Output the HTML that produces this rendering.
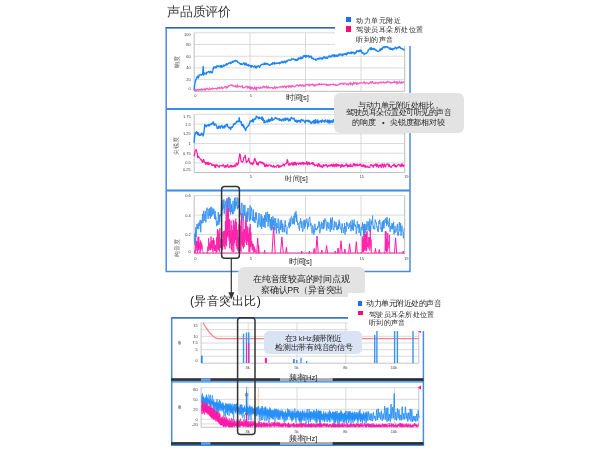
<!DOCTYPE html>
<html><head><meta charset="utf-8"><style>
html,body{margin:0;padding:0;background:#fff;width:600px;height:450px;overflow:hidden}
body{position:relative;font-family:'Liberation Sans',sans-serif;color:#262626}
.a{position:absolute;white-space:nowrap;line-height:1;transform-origin:0 0;filter:grayscale(1)}
.r{position:absolute}
.box{position:absolute;background:#e3e3e3;border-radius:6px}
</style></head><body>
<svg width="600" height="450" viewBox="0 0 600 450" style="position:absolute;left:0;top:0"><rect x="166.2" y="27.9" width="243.8" height="243.6" fill="none" stroke="#4a8ae0" stroke-width="1.5"/>
<line x1="165.50" y1="27.60" x2="410.70" y2="27.60" stroke="#3466b4" stroke-width="1.10" />
<line x1="166.00" y1="108.90" x2="410.00" y2="108.90" stroke="#3b8af0" stroke-width="2.00" />
<line x1="166.00" y1="190.50" x2="410.00" y2="190.50" stroke="#3b8af0" stroke-width="2.00" />
<line x1="194.20" y1="32.80" x2="404.70" y2="32.80" stroke="#d6d6d6" stroke-width="0.90" />
<line x1="194.20" y1="44.50" x2="404.70" y2="44.50" stroke="#d6d6d6" stroke-width="0.90" />
<line x1="194.20" y1="56.20" x2="404.70" y2="56.20" stroke="#d6d6d6" stroke-width="0.90" />
<line x1="194.20" y1="67.90" x2="404.70" y2="67.90" stroke="#d6d6d6" stroke-width="0.90" />
<line x1="194.20" y1="79.60" x2="404.70" y2="79.60" stroke="#d6d6d6" stroke-width="0.90" />
<line x1="250.00" y1="32.80" x2="250.00" y2="91.30" stroke="#d6d6d6" stroke-width="0.90" />
<line x1="305.50" y1="32.80" x2="305.50" y2="91.30" stroke="#d6d6d6" stroke-width="0.90" />
<line x1="361.00" y1="32.80" x2="361.00" y2="91.30" stroke="#d6d6d6" stroke-width="0.90" />
<line x1="194.20" y1="32.80" x2="194.20" y2="91.30" stroke="#b5b5b5" stroke-width="0.90" />
<line x1="404.70" y1="32.80" x2="404.70" y2="91.30" stroke="#b5b5b5" stroke-width="0.90" />
<line x1="194.20" y1="91.30" x2="404.70" y2="91.30" stroke="#b5b5b5" stroke-width="0.90" />
<path d="M194.20,90.08 L194.70,84.41 L195.20,82.20 L195.70,80.22 L196.20,79.36 L196.70,77.23 L197.20,77.63 L197.70,76.03 L198.20,77.98 L198.70,77.03 L199.20,75.17 L199.70,74.96 L200.20,74.75 L200.70,74.53 L201.20,75.11 L201.70,74.69 L202.20,74.68 L202.70,73.80 L203.20,66.50 L203.70,75.09 L204.20,73.77 L204.70,73.11 L205.20,73.62 L205.70,73.45 L206.20,74.28 L206.70,72.09 L207.20,72.53 L207.70,72.30 L208.20,71.90 L208.70,71.47 L209.20,71.42 L209.70,72.88 L210.20,71.72 L210.70,71.27 L211.20,72.05 L211.70,72.88 L212.20,72.76 L212.70,70.89 L213.20,68.78 L213.70,66.94 L214.20,67.91 L214.70,67.89 L215.20,66.66 L215.70,67.46 L216.20,67.78 L216.70,66.09 L217.20,66.48 L217.70,65.77 L218.20,66.45 L218.70,66.32 L219.20,65.98 L219.70,66.44 L220.20,67.17 L220.70,65.38 L221.20,66.97 L221.70,65.38 L222.20,66.97 L222.70,66.61 L223.20,66.13 L223.70,64.92 L224.20,66.13 L224.70,65.34 L225.20,65.35 L225.70,64.36 L226.20,64.91 L226.70,63.57 L227.20,64.83 L227.70,63.71 L228.20,63.78 L228.70,63.34 L229.20,62.76 L229.70,62.94 L230.20,62.33 L230.70,63.52 L231.20,63.22 L231.70,62.92 L232.20,61.20 L232.70,62.30 L233.20,62.37 L233.70,61.08 L234.20,61.13 L234.70,61.46 L235.20,60.15 L235.70,61.04 L236.20,60.76 L236.70,61.28 L237.20,61.05 L237.70,62.25 L238.20,62.46 L238.70,62.78 L239.20,62.91 L239.70,63.68 L240.20,63.42 L240.70,64.39 L241.20,63.61 L241.70,64.18 L242.20,64.63 L242.70,64.13 L243.20,63.55 L243.70,62.97 L244.20,63.83 L244.70,64.93 L245.20,63.06 L245.70,64.42 L246.20,63.37 L246.70,64.92 L247.20,65.50 L247.70,65.07 L248.20,64.55 L248.70,65.99 L249.20,65.40 L249.70,65.43 L250.20,65.59 L250.70,66.73 L251.20,67.20 L251.70,65.53 L252.20,65.83 L252.70,66.01 L253.20,66.45 L253.70,67.15 L254.20,66.94 L254.70,65.86 L255.20,66.35 L255.70,67.68 L256.20,68.05 L256.70,66.47 L257.20,66.25 L257.70,66.72 L258.20,65.76 L258.70,66.44 L259.20,66.70 L259.70,67.26 L260.20,65.56 L260.70,65.15 L261.20,65.01 L261.70,64.35 L262.20,64.22 L262.70,64.47 L263.20,64.75 L263.70,64.43 L264.20,63.07 L264.70,64.34 L265.20,63.10 L265.70,64.16 L266.20,63.41 L266.70,64.23 L267.20,63.92 L267.70,63.47 L268.20,64.83 L268.70,64.68 L269.20,64.76 L269.70,65.32 L270.20,64.93 L270.70,65.00 L271.20,64.03 L271.70,63.69 L272.20,64.29 L272.70,62.70 L273.20,62.92 L273.70,63.24 L274.20,64.16 L274.70,62.46 L275.20,63.56 L275.70,63.69 L276.20,63.52 L276.70,62.88 L277.20,63.30 L277.70,63.37 L278.20,62.96 L278.70,63.18 L279.20,62.49 L279.70,63.68 L280.20,63.18 L280.70,62.79 L281.20,62.03 L281.70,62.49 L282.20,61.42 L282.70,62.58 L283.20,62.81 L283.70,62.02 L284.20,61.12 L284.70,61.62 L285.20,62.80 L285.70,61.45 L286.20,60.88 L286.70,61.94 L287.20,60.58 L287.70,60.78 L288.20,60.04 L288.70,59.88 L289.20,59.84 L289.70,60.09 L290.20,60.45 L290.70,60.28 L291.20,59.51 L291.70,58.72 L292.20,59.27 L292.70,59.15 L293.20,58.69 L293.70,59.39 L294.20,59.33 L294.70,59.77 L295.20,59.22 L295.70,60.43 L296.20,59.61 L296.70,60.47 L297.20,60.24 L297.70,58.73 L298.20,59.56 L298.70,57.93 L299.20,58.68 L299.70,58.09 L300.20,58.87 L300.70,57.28 L301.20,58.70 L301.70,57.30 L302.20,58.33 L302.70,57.94 L303.20,56.23 L303.70,55.67 L304.20,56.55 L304.70,55.73 L305.20,55.43 L305.70,57.16 L306.20,55.53 L306.70,56.77 L307.20,56.54 L307.70,55.97 L308.20,56.11 L308.70,55.54 L309.20,57.52 L309.70,56.62 L310.20,56.89 L310.70,56.31 L311.20,56.21 L311.70,58.27 L312.20,58.67 L312.70,57.94 L313.20,58.30 L313.70,59.37 L314.20,59.40 L314.70,59.41 L315.20,58.97 L315.70,60.26 L316.20,60.13 L316.70,59.39 L317.20,58.65 L317.70,59.07 L318.20,58.26 L318.70,58.82 L319.20,59.14 L319.70,58.00 L320.20,58.51 L320.70,58.06 L321.20,58.86 L321.70,59.08 L322.20,57.79 L322.70,59.07 L323.20,57.97 L323.70,57.04 L324.20,56.67 L324.70,58.04 L325.20,57.27 L325.70,57.72 L326.20,58.14 L326.70,57.08 L327.20,58.30 L327.70,58.08 L328.20,56.79 L328.70,56.52 L329.20,55.74 L329.70,56.78 L330.20,57.01 L330.70,56.15 L331.20,56.71 L331.70,56.72 L332.20,55.05 L332.70,54.85 L333.20,55.96 L333.70,56.17 L334.20,54.68 L334.70,56.80 L335.20,56.24 L335.70,55.26 L336.20,55.11 L336.70,56.36 L337.20,55.46 L337.70,56.37 L338.20,54.81 L338.70,55.37 L339.20,54.11 L339.70,54.12 L340.20,55.02 L340.70,54.04 L341.20,54.31 L341.70,54.62 L342.20,55.70 L342.70,54.22 L343.20,55.01 L343.70,54.60 L344.20,53.64 L344.70,54.28 L345.20,54.37 L345.70,53.56 L346.20,54.80 L346.70,54.84 L347.20,52.69 L347.70,53.18 L348.20,52.61 L348.70,52.54 L349.20,53.37 L349.70,53.33 L350.20,52.92 L350.70,52.42 L351.20,53.64 L351.70,51.85 L352.20,53.15 L352.70,52.49 L353.20,52.37 L353.70,52.71 L354.20,53.90 L354.70,52.69 L355.20,53.48 L355.70,52.13 L356.20,52.66 L356.70,50.65 L357.20,51.48 L357.70,51.20 L358.20,50.87 L358.70,51.67 L359.20,50.52 L359.70,51.44 L360.20,50.08 L360.70,51.45 L361.20,50.45 L361.70,51.85 L362.20,53.21 L362.70,52.75 L363.20,52.88 L363.70,53.05 L364.20,54.57 L364.70,53.43 L365.20,53.51 L365.70,53.70 L366.20,53.46 L366.70,52.95 L367.20,52.51 L367.70,51.84 L368.20,50.44 L368.70,49.73 L369.20,49.15 L369.70,48.96 L370.20,47.92 L370.70,49.43 L371.20,47.73 L371.70,49.67 L372.20,48.90 L372.70,48.99 L373.20,48.32 L373.70,49.31 L374.20,49.53 L374.70,48.77 L375.20,50.01 L375.70,49.84 L376.20,50.46 L376.70,50.27 L377.20,51.07 L377.70,51.43 L378.20,51.52 L378.70,51.02 L379.20,50.77 L379.70,50.07 L380.20,49.09 L380.70,50.64 L381.20,48.56 L381.70,48.56 L382.20,49.26 L382.70,47.41 L383.20,47.68 L383.70,46.90 L384.20,46.98 L384.70,47.88 L385.20,45.86 L385.70,46.09 L386.20,47.16 L386.70,46.54 L387.20,46.65 L387.70,47.61 L388.20,47.33 L388.70,47.74 L389.20,48.57 L389.70,48.03 L390.20,49.44 L390.70,48.09 L391.20,49.31 L391.70,48.63 L392.20,49.05 L392.70,49.95 L393.20,48.50 L393.70,48.42 L394.20,48.89 L394.70,48.60 L395.20,47.29 L395.70,47.27 L396.20,48.01 L396.70,48.93 L397.20,47.65 L397.70,47.70 L398.20,47.32 L398.70,47.71 L399.20,46.49 L399.70,46.60 L400.20,47.55 L400.70,48.36 L401.20,48.21 L401.70,48.75 L402.20,48.48 L402.70,48.98 L403.20,49.64 L403.70,49.99 L404.20,48.90" fill="none" stroke="#1e85f5" stroke-width="1.4" stroke-linejoin="round"/>
<path d="M194.20,89.90 L194.70,90.61 L195.20,90.47 L195.70,89.71 L196.20,90.76 L196.70,90.42 L197.20,89.60 L197.70,89.50 L198.20,89.92 L198.70,90.56 L199.20,89.35 L199.70,89.55 L200.20,89.88 L200.70,89.36 L201.20,89.88 L201.70,88.89 L202.20,89.28 L202.70,89.94 L203.20,89.57 L203.70,89.24 L204.20,88.89 L204.70,90.03 L205.20,89.20 L205.70,89.70 L206.20,88.71 L206.70,88.29 L207.20,88.15 L207.70,89.05 L208.20,89.40 L208.70,89.82 L209.20,88.78 L209.70,88.09 L210.20,89.21 L210.70,89.62 L211.20,89.29 L211.70,88.39 L212.20,88.83 L212.70,88.08 L213.20,88.84 L213.70,88.72 L214.20,88.75 L214.70,88.59 L215.20,88.35 L215.70,88.47 L216.20,88.41 L216.70,89.04 L217.20,88.96 L217.70,87.65 L218.20,87.42 L218.70,88.27 L219.20,88.55 L219.70,87.62 L220.20,88.31 L220.70,88.00 L221.20,87.46 L221.70,87.00 L222.20,88.56 L222.70,87.99 L223.20,88.08 L223.70,88.04 L224.20,87.29 L224.70,86.80 L225.20,86.59 L225.70,86.44 L226.20,88.11 L226.70,87.00 L227.20,87.65 L227.70,87.07 L228.20,86.00 L228.70,86.38 L229.20,85.81 L229.70,85.30 L230.20,85.30 L230.70,85.28 L231.20,84.64 L231.70,84.72 L232.20,85.58 L232.70,85.25 L233.20,85.86 L233.70,86.17 L234.20,86.62 L234.70,86.61 L235.20,85.81 L235.70,86.74 L236.20,86.12 L236.70,86.81 L237.20,85.25 L237.70,87.01 L238.20,86.67 L238.70,86.35 L239.20,86.01 L239.70,86.50 L240.20,86.51 L240.70,86.87 L241.20,86.22 L241.70,86.49 L242.20,85.84 L242.70,87.82 L243.20,87.80 L243.70,87.67 L244.20,87.45 L244.70,87.85 L245.20,87.48 L245.70,86.90 L246.20,86.35 L246.70,86.80 L247.20,86.37 L247.70,88.07 L248.20,87.23 L248.70,86.78 L249.20,88.08 L249.70,87.35 L250.20,88.59 L250.70,87.24 L251.20,88.46 L251.70,87.46 L252.20,87.97 L252.70,87.62 L253.20,89.33 L253.70,88.47 L254.20,88.74 L254.70,87.14 L255.20,87.76 L255.70,89.08 L256.20,87.85 L256.70,89.29 L257.20,87.58 L257.70,87.71 L258.20,87.56 L258.70,87.34 L259.20,88.38 L259.70,87.99 L260.20,88.03 L260.70,87.23 L261.20,88.07 L261.70,87.77 L262.20,88.05 L262.70,87.16 L263.20,86.28 L263.70,86.78 L264.20,87.60 L264.70,86.48 L265.20,86.66 L265.70,87.13 L266.20,87.65 L266.70,86.49 L267.20,87.78 L267.70,88.07 L268.20,86.76 L268.70,87.68 L269.20,87.65 L269.70,87.61 L270.20,88.21 L270.70,87.74 L271.20,87.38 L271.70,87.48 L272.20,87.59 L272.70,88.46 L273.20,88.62 L273.70,87.85 L274.20,87.84 L274.70,86.88 L275.20,88.19 L275.70,88.53 L276.20,87.05 L276.70,87.36 L277.20,87.25 L277.70,87.78 L278.20,87.76 L278.70,87.22 L279.20,86.88 L279.70,86.79 L280.20,86.55 L280.70,87.07 L281.20,87.07 L281.70,87.28 L282.20,86.14 L282.70,86.81 L283.20,87.29 L283.70,86.38 L284.20,86.02 L284.70,86.05 L285.20,87.33 L285.70,86.49 L286.20,87.46 L286.70,86.21 L287.20,86.25 L287.70,86.41 L288.20,85.91 L288.70,87.25 L289.20,86.95 L289.70,85.90 L290.20,85.91 L290.70,87.12 L291.20,85.95 L291.70,86.73 L292.20,86.00 L292.70,85.46 L293.20,86.48 L293.70,86.49 L294.20,86.43 L294.70,86.94 L295.20,86.67 L295.70,85.66 L296.20,85.81 L296.70,84.99 L297.20,85.33 L297.70,85.24 L298.20,86.01 L298.70,85.37 L299.20,85.01 L299.70,85.62 L300.20,84.81 L300.70,85.04 L301.20,86.18 L301.70,85.15 L302.20,84.85 L302.70,85.48 L303.20,86.24 L303.70,85.14 L304.20,85.57 L304.70,86.13 L305.20,85.81 L305.70,84.53 L306.20,84.79 L306.70,84.36 L307.20,84.26 L307.70,84.88 L308.20,84.42 L308.70,84.79 L309.20,85.64 L309.70,84.56 L310.20,85.34 L310.70,84.72 L311.20,84.68 L311.70,84.74 L312.20,84.02 L312.70,84.82 L313.20,85.25 L313.70,84.66 L314.20,85.86 L314.70,85.25 L315.20,85.84 L315.70,84.75 L316.20,84.52 L316.70,84.96 L317.20,84.64 L317.70,84.76 L318.20,84.05 L318.70,84.62 L319.20,84.81 L319.70,83.71 L320.20,84.30 L320.70,84.47 L321.20,84.66 L321.70,83.89 L322.20,84.47 L322.70,84.31 L323.20,84.29 L323.70,84.41 L324.20,84.00 L324.70,83.97 L325.20,84.72 L325.70,84.81 L326.20,84.34 L326.70,85.37 L327.20,84.66 L327.70,85.34 L328.20,85.14 L328.70,84.70 L329.20,85.31 L329.70,84.75 L330.20,84.35 L330.70,84.90 L331.20,84.50 L331.70,84.42 L332.20,84.32 L332.70,84.44 L333.20,84.67 L333.70,84.07 L334.20,84.82 L334.70,84.81 L335.20,85.20 L335.70,84.57 L336.20,85.39 L336.70,84.92 L337.20,84.96 L337.70,85.43 L338.20,84.76 L338.70,84.60 L339.20,83.98 L339.70,84.55 L340.20,83.82 L340.70,83.57 L341.20,83.48 L341.70,83.10 L342.20,84.04 L342.70,83.43 L343.20,83.74 L343.70,84.27 L344.20,83.09 L344.70,83.76 L345.20,83.75 L345.70,83.60 L346.20,83.82 L346.70,84.42 L347.20,84.71 L347.70,83.93 L348.20,84.33 L348.70,84.75 L349.20,83.64 L349.70,83.42 L350.20,82.76 L350.70,84.45 L351.20,83.24 L351.70,83.77 L352.20,83.70 L352.70,84.93 L353.20,84.03 L353.70,82.55 L354.20,83.66 L354.70,82.88 L355.20,82.57 L355.70,83.40 L356.20,82.99 L356.70,84.12 L357.20,83.14 L357.70,83.87 L358.20,83.46 L358.70,83.77 L359.20,83.14 L359.70,82.76 L360.20,83.23 L360.70,82.89 L361.20,82.52 L361.70,82.73 L362.20,83.00 L362.70,83.15 L363.20,82.65 L363.70,82.03 L364.20,82.76 L364.70,82.27 L365.20,83.77 L365.70,83.38 L366.20,82.62 L366.70,82.81 L367.20,82.82 L367.70,83.09 L368.20,83.54 L368.70,83.90 L369.20,83.56 L369.70,82.50 L370.20,82.16 L370.70,81.78 L371.20,82.98 L371.70,82.50 L372.20,81.73 L372.70,81.76 L373.20,83.24 L373.70,83.30 L374.20,83.34 L374.70,83.46 L375.20,82.50 L375.70,83.22 L376.20,82.93 L376.70,82.63 L377.20,82.88 L377.70,82.92 L378.20,83.71 L378.70,83.21 L379.20,82.41 L379.70,82.68 L380.20,82.38 L380.70,82.28 L381.20,82.98 L381.70,82.35 L382.20,81.97 L382.70,82.37 L383.20,82.21 L383.70,81.88 L384.20,83.09 L384.70,82.81 L385.20,82.54 L385.70,82.79 L386.20,82.80 L386.70,81.71 L387.20,81.52 L387.70,82.33 L388.20,82.03 L388.70,81.89 L389.20,81.84 L389.70,82.30 L390.20,82.04 L390.70,83.26 L391.20,82.95 L391.70,82.74 L392.20,82.91 L392.70,82.31 L393.20,82.31 L393.70,81.84 L394.20,82.48 L394.70,81.47 L395.20,82.26 L395.70,82.53 L396.20,81.94 L396.70,83.33 L397.20,82.17 L397.70,83.44 L398.20,83.06 L398.70,82.98 L399.20,81.59 L399.70,82.52 L400.20,83.05 L400.70,82.56 L401.20,81.93 L401.70,83.16 L402.20,83.00 L402.70,82.38 L403.20,81.90 L403.70,82.45 L404.20,81.97" fill="none" stroke="#f55ec0" stroke-width="1.2"/>
<line x1="194.20" y1="114.40" x2="404.70" y2="114.40" stroke="#d6d6d6" stroke-width="0.90" />
<line x1="194.20" y1="124.10" x2="404.70" y2="124.10" stroke="#d6d6d6" stroke-width="0.90" />
<line x1="194.20" y1="133.80" x2="404.70" y2="133.80" stroke="#d6d6d6" stroke-width="0.90" />
<line x1="194.20" y1="143.50" x2="404.70" y2="143.50" stroke="#d6d6d6" stroke-width="0.90" />
<line x1="194.20" y1="153.20" x2="404.70" y2="153.20" stroke="#d6d6d6" stroke-width="0.90" />
<line x1="194.20" y1="162.90" x2="404.70" y2="162.90" stroke="#d6d6d6" stroke-width="0.90" />
<line x1="250.00" y1="114.40" x2="250.00" y2="172.60" stroke="#d6d6d6" stroke-width="0.90" />
<line x1="305.50" y1="114.40" x2="305.50" y2="172.60" stroke="#d6d6d6" stroke-width="0.90" />
<line x1="361.00" y1="114.40" x2="361.00" y2="172.60" stroke="#d6d6d6" stroke-width="0.90" />
<line x1="194.20" y1="114.40" x2="194.20" y2="172.60" stroke="#b5b5b5" stroke-width="0.90" />
<line x1="404.70" y1="114.40" x2="404.70" y2="172.60" stroke="#b5b5b5" stroke-width="0.90" />
<line x1="194.20" y1="172.60" x2="404.70" y2="172.60" stroke="#b5b5b5" stroke-width="0.90" />
<path d="M194.20,142.70 L194.70,135.72 L195.20,133.02 L195.70,133.76 L196.20,131.85 L196.70,131.81 L197.20,132.49 L197.70,134.70 L198.20,132.60 L198.70,134.85 L199.20,135.32 L199.70,135.44 L200.20,134.31 L200.70,135.21 L201.20,134.97 L201.70,133.07 L202.20,134.14 L202.70,134.37 L203.20,136.00 L203.70,133.23 L204.20,130.31 L204.70,124.69 L205.20,126.51 L205.70,124.87 L206.20,126.67 L206.70,125.54 L207.20,125.26 L207.70,125.46 L208.20,125.83 L208.70,124.43 L209.20,125.84 L209.70,124.79 L210.20,124.04 L210.70,124.69 L211.20,124.37 L211.70,123.16 L212.20,123.16 L212.70,123.83 L213.20,121.82 L213.70,122.77 L214.20,125.35 L214.70,124.84 L215.20,124.05 L215.70,124.11 L216.20,125.31 L216.70,125.97 L217.20,128.31 L217.70,127.82 L218.20,128.43 L218.70,126.27 L219.20,127.27 L219.70,126.15 L220.20,128.31 L220.70,126.76 L221.20,125.79 L221.70,125.54 L222.20,126.52 L222.70,127.96 L223.20,126.30 L223.70,127.12 L224.20,128.11 L224.70,125.77 L225.20,126.13 L225.70,126.82 L226.20,124.50 L226.70,124.62 L227.20,124.29 L227.70,126.24 L228.20,127.09 L228.70,127.53 L229.20,128.05 L229.70,127.15 L230.20,128.47 L230.70,129.44 L231.20,126.99 L231.70,127.35 L232.20,127.56 L232.70,126.26 L233.20,125.92 L233.70,123.88 L234.20,124.37 L234.70,124.22 L235.20,123.09 L235.70,123.46 L236.20,122.88 L236.70,121.34 L237.20,121.03 L237.70,121.78 L238.20,121.12 L238.70,121.70 L239.20,117.70 L239.70,120.76 L240.20,121.82 L240.70,122.15 L241.20,121.67 L241.70,125.32 L242.20,125.79 L242.70,124.74 L243.20,124.65 L243.70,127.24 L244.20,126.55 L244.70,128.75 L245.20,128.84 L245.70,130.57 L246.20,128.10 L246.70,127.46 L247.20,127.15 L247.70,126.18 L248.20,125.69 L248.70,125.84 L249.20,123.86 L249.70,122.89 L250.20,121.07 L250.70,121.37 L251.20,120.80 L251.70,121.51 L252.20,120.48 L252.70,119.27 L253.20,122.00 L253.70,120.31 L254.20,118.86 L254.70,119.49 L255.20,118.65 L255.70,119.10 L256.20,116.24 L256.70,116.29 L257.20,117.14 L257.70,117.40 L258.20,118.09 L258.70,118.75 L259.20,117.00 L259.70,118.43 L260.20,118.13 L260.70,118.15 L261.20,117.60 L261.70,119.23 L262.20,117.04 L262.70,120.27 L263.20,118.41 L263.70,120.38 L264.20,122.77 L264.70,120.61 L265.20,122.37 L265.70,122.17 L266.20,121.97 L266.70,120.99 L267.20,120.16 L267.70,122.04 L268.20,121.09 L268.70,119.20 L269.20,121.58 L269.70,121.41 L270.20,119.42 L270.70,120.70 L271.20,120.39 L271.70,117.59 L272.20,118.55 L272.70,120.35 L273.20,119.44 L273.70,119.48 L274.20,119.01 L274.70,118.40 L275.20,117.59 L275.70,117.55 L276.20,118.41 L276.70,118.68 L277.20,118.45 L277.70,119.01 L278.20,118.99 L278.70,118.85 L279.20,120.23 L279.70,118.81 L280.20,120.31 L280.70,119.97 L281.20,119.72 L281.70,121.03 L282.20,119.79 L282.70,119.08 L283.20,118.78 L283.70,120.88 L284.20,119.95 L284.70,119.53 L285.20,118.09 L285.70,120.40 L286.20,118.42 L286.70,118.90 L287.20,119.51 L287.70,118.17 L288.20,119.75 L288.70,121.02 L289.20,119.19 L289.70,120.49 L290.20,120.53 L290.70,118.64 L291.20,117.47 L291.70,118.30 L292.20,118.24 L292.70,118.84 L293.20,118.24 L293.70,119.02 L294.20,118.46 L294.70,121.15 L295.20,120.36 L295.70,120.63 L296.20,122.07 L296.70,120.25 L297.20,122.11 L297.70,121.66 L298.20,120.43 L298.70,121.27 L299.20,120.98 L299.70,120.53 L300.20,122.22 L300.70,121.91 L301.20,119.35 L301.70,119.82 L302.20,119.91 L302.70,120.89 L303.20,120.30 L303.70,120.32 L304.20,121.43 L304.70,122.16 L305.20,122.67 L305.70,120.29 L306.20,120.55 L306.70,121.03 L307.20,120.46 L307.70,121.28 L308.20,120.11 L308.70,121.58 L309.20,121.94 L309.70,120.71 L310.20,121.85 L310.70,123.09 L311.20,123.23 L311.70,123.43 L312.20,121.48 L312.70,122.14 L313.20,121.96 L313.70,120.58 L314.20,123.28 L314.70,120.11 L315.20,123.12 L315.70,119.74 L316.20,122.14 L316.70,121.79 L317.20,122.72 L317.70,119.90 L318.20,123.09 L318.70,121.53 L319.20,121.14 L319.70,122.09 L320.20,121.38 L320.70,120.68 L321.20,121.26 L321.70,122.43 L322.20,119.89 L322.70,120.84 L323.20,120.72 L323.70,121.59 L324.20,121.06 L324.70,122.10 L325.20,119.90 L325.70,120.20 L326.20,121.64 L326.70,121.52 L327.20,121.92 L327.70,120.06 L328.20,122.57 L328.70,120.54 L329.20,123.00 L329.70,120.18 L330.20,122.52 L330.70,122.39 L331.20,120.69 L331.70,122.24 L332.20,122.48 L332.70,121.07 L333.20,119.67 L333.70,120.34 L334.20,122.46 L334.70,123.05" fill="none" stroke="#1e85f5" stroke-width="1.4" stroke-linejoin="round"/>
<path d="M194.20,156.25 L194.70,153.40 L195.20,150.31 L195.70,149.99 L196.20,149.59 L196.70,151.32 L197.20,153.09 L197.70,157.73 L198.20,156.00 L198.70,156.60 L199.20,157.52 L199.70,158.21 L200.20,158.79 L200.70,159.85 L201.20,159.64 L201.70,160.13 L202.20,162.46 L202.70,161.46 L203.20,159.96 L203.70,159.38 L204.20,162.44 L204.70,161.91 L205.20,162.48 L205.70,164.41 L206.20,162.38 L206.70,163.78 L207.20,162.62 L207.70,164.36 L208.20,162.09 L208.70,164.65 L209.20,164.50 L209.70,163.21 L210.20,163.42 L210.70,163.24 L211.20,164.07 L211.70,165.12 L212.20,164.30 L212.70,165.52 L213.20,165.35 L213.70,164.73 L214.20,164.83 L214.70,167.12 L215.20,165.08 L215.70,167.55 L216.20,164.71 L216.70,165.15 L217.20,164.97 L217.70,165.73 L218.20,166.56 L218.70,166.02 L219.20,167.23 L219.70,165.52 L220.20,165.50 L220.70,165.72 L221.20,165.63 L221.70,165.46 L222.20,166.06 L222.70,165.37 L223.20,164.60 L223.70,165.27 L224.20,167.21 L224.70,167.16 L225.20,165.59 L225.70,167.27 L226.20,165.74 L226.70,166.69 L227.20,165.14 L227.70,164.51 L228.20,166.76 L228.70,167.46 L229.20,167.03 L229.70,167.06 L230.20,165.10 L230.70,165.54 L231.20,167.08 L231.70,165.33 L232.20,166.21 L232.70,166.79 L233.20,166.30 L233.70,165.90 L234.20,166.65 L234.70,164.95 L235.20,165.73 L235.70,166.54 L236.20,163.44 L236.70,162.94 L237.20,164.98 L237.70,164.95 L238.20,163.87 L238.70,160.15 L239.20,157.23 L239.70,153.95 L240.20,154.38 L240.70,159.23 L241.20,161.50 L241.70,161.87 L242.20,161.82 L242.70,162.01 L243.20,160.68 L243.70,157.65 L244.20,157.59 L244.70,156.88 L245.20,155.20 L245.70,158.61 L246.20,162.20 L246.70,162.52 L247.20,161.38 L247.70,161.49 L248.20,159.87 L248.70,158.10 L249.20,160.68 L249.70,162.72 L250.20,163.01 L250.70,163.62 L251.20,162.75 L251.70,164.20 L252.20,163.76 L252.70,164.79 L253.20,162.26 L253.70,163.43 L254.20,159.67 L254.70,158.31 L255.20,159.41 L255.70,161.24 L256.20,161.67 L256.70,164.35 L257.20,164.53 L257.70,162.88 L258.20,165.17 L258.70,162.23 L259.20,162.07 L259.70,162.47 L260.20,161.75 L260.70,162.58 L261.20,161.88 L261.70,162.84 L262.20,163.75 L262.70,162.48 L263.20,163.15 L263.70,164.16 L264.20,163.46 L264.70,166.38 L265.20,165.49 L265.70,166.61 L266.20,164.20 L266.70,165.95 L267.20,164.70 L267.70,166.28 L268.20,165.90 L268.70,165.14 L269.20,165.03 L269.70,164.69 L270.20,165.17 L270.70,166.19 L271.20,165.28 L271.70,165.60 L272.20,166.85 L272.70,166.89 L273.20,166.31 L273.70,165.27 L274.20,167.45 L274.70,166.57 L275.20,166.36 L275.70,166.48 L276.20,167.27 L276.70,166.33 L277.20,165.09 L277.70,165.02 L278.20,165.05 L278.70,167.45 L279.20,167.00 L279.70,165.73 L280.20,166.94 L280.70,165.88 L281.20,166.44 L281.70,165.80 L282.20,165.70 L282.70,165.04 L283.20,163.91 L283.70,164.36 L284.20,166.15 L284.70,164.35 L285.20,163.90 L285.70,163.81 L286.20,163.74 L286.70,162.79 L287.20,159.47 L287.70,160.50 L288.20,163.71 L288.70,165.13 L289.20,165.24 L289.70,163.40 L290.20,164.90 L290.70,164.15 L291.20,163.75 L291.70,162.68 L292.20,164.55 L292.70,163.14 L293.20,165.51 L293.70,162.80 L294.20,162.20 L294.70,164.63 L295.20,163.59 L295.70,162.29 L296.20,165.13 L296.70,164.23 L297.20,163.19 L297.70,163.01 L298.20,163.09 L298.70,164.50 L299.20,163.82 L299.70,162.88 L300.20,163.69 L300.70,164.43 L301.20,162.68 L301.70,163.92 L302.20,163.80 L302.70,162.42 L303.20,162.27 L303.70,164.72 L304.20,162.80 L304.70,163.79 L305.20,163.52 L305.70,163.90 L306.20,163.44 L306.70,161.61 L307.20,164.78 L307.70,164.72 L308.20,162.08 L308.70,163.86 L309.20,162.58 L309.70,164.40 L310.20,163.70 L310.70,164.02 L311.20,163.47 L311.70,163.25 L312.20,162.41 L312.70,164.34 L313.20,162.86 L313.70,164.52 L314.20,164.09 L314.70,165.88 L315.20,165.62 L315.70,165.22 L316.20,164.73 L316.70,165.01 L317.20,165.28 L317.70,166.70 L318.20,163.66 L318.70,163.62 L319.20,165.89 L319.70,164.37 L320.20,166.81 L320.70,166.41 L321.20,165.73 L321.70,165.82 L322.20,167.48 L322.70,167.16 L323.20,164.71 L323.70,166.04 L324.20,165.16 L324.70,166.02 L325.20,164.83 L325.70,164.77 L326.20,165.38 L326.70,164.53 L327.20,167.15 L327.70,166.46 L328.20,165.93 L328.70,165.25 L329.20,166.33 L329.70,165.30 L330.20,165.03 L330.70,166.05 L331.20,164.33 L331.70,164.58 L332.20,166.03 L332.70,166.69 L333.20,164.15 L333.70,164.85 L334.20,166.58 L334.70,164.55 L335.20,166.41 L335.70,164.28 L336.20,163.94 L336.70,166.71 L337.20,164.49 L337.70,164.66 L338.20,166.14 L338.70,164.61 L339.20,165.58 L339.70,165.30 L340.20,165.08 L340.70,167.41 L341.20,164.90 L341.70,166.52 L342.20,164.50 L342.70,164.69 L343.20,166.41 L343.70,166.66 L344.20,165.67 L344.70,166.06 L345.20,165.55 L345.70,165.63 L346.20,163.73 L346.70,165.40 L347.20,164.51 L347.70,167.07 L348.20,165.48 L348.70,166.42 L349.20,164.85 L349.70,166.17 L350.20,166.40 L350.70,164.06 L351.20,166.41 L351.70,166.36 L352.20,166.56 L352.70,166.49 L353.20,164.21 L353.70,163.60 L354.20,165.29 L354.70,163.93 L355.20,166.14 L355.70,164.65 L356.20,165.00 L356.70,164.23 L357.20,165.81 L357.70,164.20 L358.20,165.11 L358.70,165.56 L359.20,165.17 L359.70,164.15 L360.20,164.80 L360.70,164.09 L361.20,166.30 L361.70,165.98 L362.20,164.99 L362.70,166.59 L363.20,166.43 L363.70,164.63 L364.20,165.13 L364.70,166.90 L365.20,167.42 L365.70,165.35 L366.20,166.86 L366.70,167.14 L367.20,167.03 L367.70,166.05 L368.20,167.37 L368.70,167.27 L369.20,167.40 L369.70,167.69 L370.20,165.44 L370.70,164.62 L371.20,164.60 L371.70,165.30 L372.20,166.10 L372.70,165.33 L373.20,167.44 L373.70,165.20 L374.20,164.83 L374.70,165.10 L375.20,165.46 L375.70,163.88 L376.20,164.63 L376.70,166.79 L377.20,164.14 L377.70,164.92 L378.20,166.45 L378.70,167.40 L379.20,165.24 L379.70,165.10 L380.20,165.78 L380.70,164.85 L381.20,167.58 L381.70,166.07 L382.20,163.94 L382.70,164.45 L383.20,165.97 L383.70,167.36 L384.20,164.15 L384.70,165.03 L385.20,166.22 L385.70,166.83 L386.20,164.34 L386.70,164.21 L387.20,163.99 L387.70,163.90 L388.20,164.28 L388.70,166.67 L389.20,164.30 L389.70,166.44 L390.20,166.17 L390.70,167.09 L391.20,167.48 L391.70,166.54 L392.20,165.67 L392.70,165.25 L393.20,165.59 L393.70,165.46 L394.20,163.98 L394.70,166.02 L395.20,166.85 L395.70,165.49 L396.20,166.61 L396.70,166.90 L397.20,165.24 L397.70,165.12 L398.20,164.54 L398.70,164.42 L399.20,164.73 L399.70,165.23 L400.20,166.46 L400.70,164.91 L401.20,166.72 L401.70,163.74 L402.20,165.68 L402.70,164.22 L403.20,166.58 L403.70,165.92 L404.20,165.05" fill="none" stroke="#ff1aa8" stroke-width="1.2" stroke-linejoin="round"/>
<line x1="194.20" y1="195.50" x2="404.70" y2="195.50" stroke="#d6d6d6" stroke-width="0.90" />
<line x1="194.20" y1="215.10" x2="404.70" y2="215.10" stroke="#d6d6d6" stroke-width="0.90" />
<line x1="194.20" y1="234.50" x2="404.70" y2="234.50" stroke="#d6d6d6" stroke-width="0.90" />
<line x1="250.00" y1="195.50" x2="250.00" y2="253.60" stroke="#d6d6d6" stroke-width="0.90" />
<line x1="305.50" y1="195.50" x2="305.50" y2="253.60" stroke="#d6d6d6" stroke-width="0.90" />
<line x1="361.00" y1="195.50" x2="361.00" y2="253.60" stroke="#d6d6d6" stroke-width="0.90" />
<line x1="194.20" y1="195.50" x2="194.20" y2="253.60" stroke="#b5b5b5" stroke-width="0.90" />
<line x1="404.70" y1="195.50" x2="404.70" y2="253.60" stroke="#b5b5b5" stroke-width="0.90" />
<line x1="194.20" y1="253.60" x2="404.70" y2="253.60" stroke="#b5b5b5" stroke-width="0.90" />
<path d="M194.80,253.30 L194.80,250.35 L195.20,253.24 L195.60,235.27 L196.00,251.15 L196.40,240.86 L196.80,248.30 L197.20,241.42 L197.60,253.06 L198.00,236.65 L198.40,250.29 L198.80,236.82 L199.20,248.63 L199.60,242.74 L200.00,253.07 L200.40,240.51 L200.80,250.95 L201.20,242.19 L201.60,248.71 L202.00,244.50 L202.40,250.57 L202.80,251.18 L203.20,252.18 L203.00,253.30" fill="none" stroke="#ff1aa8" stroke-width="0.8"/>
<path d="M207.00,253.30 L207.00,252.02 L207.40,253.02 L207.80,246.69 L208.20,251.17 L208.60,238.13 L209.00,248.98 L209.40,243.64 L209.80,250.27 L210.20,241.76 L210.60,250.04 L211.00,236.59 L211.40,248.18 L211.80,240.74 L212.20,250.06 L212.60,240.25 L213.00,252.32 L213.40,237.88 L213.80,248.92 L214.20,240.33 L214.60,250.90 L215.00,244.80 L215.40,250.95 L215.80,244.92 L216.20,252.89 L216.60,237.21 L217.00,251.80 L217.40,229.06 L217.80,248.91 L218.20,230.34 L218.60,250.07 L219.00,232.84 L219.40,251.74 L219.80,228.15 L220.20,247.94 L220.60,238.82 L221.00,247.96 L221.40,238.21 L221.80,249.67 L222.20,239.07 L222.60,250.09 L223.00,231.72 L223.40,245.75 L223.80,231.02 L224.20,247.17 L224.60,230.70 L225.00,249.29 L225.40,221.09 L225.80,244.26 L226.20,207.39 L226.60,246.24 L227.00,198.11 L227.40,237.26 L227.80,200.77 L228.20,236.38 L228.60,207.61 L229.00,240.70 L229.40,219.06 L229.80,248.27 L230.20,230.74 L230.60,243.46 L231.00,220.47 L231.40,249.76 L231.80,225.43 L232.20,251.89 L232.60,230.03 L233.00,245.64 L233.40,219.87 L233.80,252.29 L234.20,224.77 L234.60,243.23 L235.00,221.42 L235.40,240.00 L235.80,218.60 L236.20,246.13 L236.60,222.08 L237.00,248.89 L237.40,229.77 L237.80,250.54 L238.20,237.43 L238.60,253.12 L239.00,224.35 L239.40,244.32 L239.80,220.60 L240.20,250.52 L240.60,225.73 L241.00,252.17 L241.40,213.26 L241.80,244.40 L242.20,232.03 L242.60,246.55 L243.00,214.96 L243.40,248.50 L243.80,229.45 L244.20,246.92 L244.60,229.12 L245.00,243.04 L245.40,220.08 L245.80,239.96 L246.20,213.30 L246.60,245.00 L247.00,225.84 L247.40,241.62 L247.80,227.28 L248.20,245.25 L248.60,233.34 L249.00,252.29 L249.40,227.45 L249.80,251.59 L250.20,224.05 L250.60,247.37 L251.00,232.52 L251.40,246.17 L251.80,240.80 L252.20,250.29 L252.60,243.50 L253.00,250.16 L253.40,244.39 L253.80,252.76 L254.20,246.36 L254.60,252.15 L255.00,248.71 L255.40,251.98 L255.80,251.37 L256.20,252.88 L256.00,253.30" fill="none" stroke="#ff1aa8" stroke-width="0.8"/>
<path d="M361.50,253.30 L361.50,252.07 L361.90,252.92 L362.30,236.32 L362.70,251.94 L363.10,238.60 L363.50,251.86 L363.90,229.08 L364.30,250.65 L364.70,233.83 L365.10,249.51 L365.50,233.85 L365.90,251.14 L366.30,232.71 L366.70,250.77 L367.10,231.10 L367.50,246.82 L367.90,243.31 L368.30,248.64 L368.70,237.09 L369.10,245.38 L369.50,237.02 L369.90,250.79 L370.30,226.75 L370.70,247.48 L371.10,239.54 L371.50,251.12 L371.50,253.30" fill="none" stroke="#ff1aa8" stroke-width="0.8"/>
<path d="M384.50,253.30 L384.50,252.17 L384.90,253.21 L385.30,231.25 L385.70,250.95 L386.10,231.47 L386.50,252.41 L386.90,238.74 L387.30,251.81 L387.70,233.03 L388.10,248.56 L388.50,242.21 L388.90,244.49 L389.30,234.84 L389.70,250.74 L390.00,253.30" fill="none" stroke="#ff1aa8" stroke-width="0.8"/>
<path d="M256.70,253.30 L257.70,238.20 L258.70,253.30" fill="none" stroke="#ff1aa8" stroke-width="1.0" stroke-linejoin="round"/>
<path d="M258.00,253.30 L258.60,245.00 L259.20,253.30" fill="none" stroke="#ff1aa8" stroke-width="1.0" stroke-linejoin="round"/>
<path d="M264.10,253.30 L264.60,250.00 L265.10,253.30" fill="none" stroke="#ff1aa8" stroke-width="1.0" stroke-linejoin="round"/>
<path d="M272.00,253.30 L273.60,226.80 L275.20,253.30" fill="none" stroke="#ff1aa8" stroke-width="1.0" stroke-linejoin="round"/>
<path d="M280.50,253.30 L281.90,236.90 L283.30,253.30" fill="none" stroke="#ff1aa8" stroke-width="1.0" stroke-linejoin="round"/>
<path d="M285.60,253.30 L286.40,247.30 L287.20,253.30" fill="none" stroke="#ff1aa8" stroke-width="1.0" stroke-linejoin="round"/>
<path d="M301.10,253.30 L301.70,251.00 L302.30,253.30" fill="none" stroke="#ff1aa8" stroke-width="1.0" stroke-linejoin="round"/>
<path d="M308.80,253.30 L309.40,251.00 L310.00,253.30" fill="none" stroke="#ff1aa8" stroke-width="1.0" stroke-linejoin="round"/>
<path d="M313.40,253.30 L314.20,248.50 L315.00,253.30" fill="none" stroke="#ff1aa8" stroke-width="1.0" stroke-linejoin="round"/>
<path d="M315.80,253.30 L317.00,236.00 L318.20,253.30" fill="none" stroke="#ff1aa8" stroke-width="1.0" stroke-linejoin="round"/>
<path d="M321.20,253.30 L321.80,250.00 L322.40,253.30" fill="none" stroke="#ff1aa8" stroke-width="1.0" stroke-linejoin="round"/>
<path d="M325.60,253.30 L326.60,245.60 L327.60,253.30" fill="none" stroke="#ff1aa8" stroke-width="1.0" stroke-linejoin="round"/>
<path d="M334.70,253.30 L335.30,251.00 L335.90,253.30" fill="none" stroke="#ff1aa8" stroke-width="1.0" stroke-linejoin="round"/>
<path d="M337.40,253.30 L338.10,248.00 L338.80,253.30" fill="none" stroke="#ff1aa8" stroke-width="1.0" stroke-linejoin="round"/>
<path d="M339.90,253.30 L341.00,240.80 L342.10,253.30" fill="none" stroke="#ff1aa8" stroke-width="1.0" stroke-linejoin="round"/>
<path d="M344.10,253.30 L344.80,249.00 L345.50,253.30" fill="none" stroke="#ff1aa8" stroke-width="1.0" stroke-linejoin="round"/>
<path d="M348.60,253.30 L349.60,243.70 L350.60,253.30" fill="none" stroke="#ff1aa8" stroke-width="1.0" stroke-linejoin="round"/>
<path d="M355.30,253.30 L356.30,241.80 L357.30,253.30" fill="none" stroke="#ff1aa8" stroke-width="1.0" stroke-linejoin="round"/>
<path d="M374.80,253.30 L375.50,248.50 L376.20,253.30" fill="none" stroke="#ff1aa8" stroke-width="1.0" stroke-linejoin="round"/>
<path d="M378.50,253.30 L379.30,249.40 L380.10,253.30" fill="none" stroke="#ff1aa8" stroke-width="1.0" stroke-linejoin="round"/>
<path d="M394.50,253.30 L395.60,237.90 L396.70,253.30" fill="none" stroke="#ff1aa8" stroke-width="1.0" stroke-linejoin="round"/>
<path d="M402.70,253.30 L403.30,251.00 L403.90,253.30" fill="none" stroke="#ff1aa8" stroke-width="1.0" stroke-linejoin="round"/>
<line x1="194.50" y1="252.90" x2="404.50" y2="252.90" stroke="#f04ab8" stroke-width="1.00" />
<path d="M194.50,244.72 L194.85,233.35 L195.20,242.84 L195.55,231.34 L195.90,227.26 L196.25,237.12 L196.60,229.10 L196.95,224.06 L197.30,226.69 L197.65,228.87 L198.00,224.04 L198.35,223.26 L198.70,229.26 L199.05,224.48 L199.40,222.17 L199.75,225.76 L200.10,219.88 L200.45,224.78 L200.80,232.27 L201.15,221.34 L201.50,220.26 L201.85,223.42 L202.20,220.19 L202.55,213.83 L202.90,223.09 L203.25,221.28 L203.60,210.74 L203.95,213.29 L204.30,220.76 L204.65,214.89 L205.00,214.41 L205.35,211.16 L205.70,222.28 L206.05,222.27 L206.40,209.16 L206.75,209.69 L207.10,207.74 L207.45,211.30 L207.80,216.06 L208.15,218.96 L208.50,213.65 L208.85,208.91 L209.20,211.17 L209.55,215.85 L209.90,208.11 L210.25,218.67 L210.60,210.23 L210.95,206.75 L211.30,215.66 L211.65,216.50 L212.00,207.58 L212.35,214.14 L212.70,215.25 L213.05,209.51 L213.40,213.55 L213.75,208.62 L214.10,209.08 L214.45,216.21 L214.80,218.99 L215.15,210.97 L215.50,219.79 L215.85,216.44 L216.20,219.92 L216.55,226.18 L216.90,225.15 L217.25,220.83 L217.60,222.28 L217.95,225.13 L218.30,212.12 L218.65,220.82 L219.00,224.58 L219.35,215.04 L219.70,221.80 L220.05,213.86 L220.40,215.65 L220.75,214.96 L221.10,216.46 L221.45,203.88 L221.80,215.07 L222.15,205.16 L222.50,210.49 L222.85,200.24 L223.20,208.72 L223.55,206.16 L223.90,199.35 L224.25,213.87 L224.60,204.40 L224.95,207.44 L225.30,200.84 L225.65,203.06 L226.00,204.99 L226.35,211.56 L226.70,210.41 L227.05,199.41 L227.40,205.49 L227.75,201.02 L228.10,201.82 L228.45,196.92 L228.80,207.14 L229.15,197.17 L229.50,200.09 L229.85,212.02 L230.20,198.57 L230.55,214.40 L230.90,206.76 L231.25,212.17 L231.60,203.93 L231.95,210.43 L232.30,209.72 L232.65,214.20 L233.00,200.91 L233.35,213.65 L233.70,212.21 L234.05,211.75 L234.40,198.56 L234.75,210.59 L235.10,197.37 L235.45,206.41 L235.80,208.37 L236.15,201.58 L236.50,205.55 L236.85,201.50 L237.20,197.27 L237.55,209.30 L237.90,205.94 L238.25,205.19 L238.60,207.74 L238.95,198.38 L239.30,202.90 L239.65,202.74 L240.00,211.30 L240.35,212.50 L240.70,214.59 L241.05,213.15 L241.40,207.63 L241.75,202.88 L242.10,203.35 L242.45,217.93 L242.80,213.46 L243.15,219.96 L243.50,221.06 L243.85,204.86 L244.20,215.20 L244.55,215.59 L244.90,205.17 L245.25,215.99 L245.60,216.42 L245.95,219.71 L246.30,215.34 L246.65,214.57 L247.00,211.54 L247.35,221.90 L247.70,210.13 L248.05,207.91 L248.40,212.32 L248.75,214.93 L249.10,218.53 L249.45,221.42 L249.80,213.95 L250.15,205.52 L250.50,219.84 L250.85,213.33 L251.20,210.37 L251.55,207.62 L251.90,211.07 L252.25,219.97 L252.60,217.65 L252.95,220.77 L253.30,209.55 L253.65,221.69 L254.00,221.74 L254.35,217.19 L254.70,218.09 L255.05,223.04 L255.40,212.44 L255.75,216.03 L256.10,219.75 L256.45,212.50 L256.80,218.99 L257.15,220.25 L257.50,227.27 L257.85,227.50 L258.20,225.48 L258.55,221.03 L258.90,213.01 L259.25,215.48 L259.60,222.88 L259.95,226.26 L260.30,226.92 L260.65,221.82 L261.00,214.23 L261.35,214.90 L261.70,228.90 L262.05,216.29 L262.40,225.83 L262.75,226.13 L263.10,220.45 L263.45,218.11 L263.80,227.09 L264.15,224.83 L264.50,215.40 L264.85,226.49 L265.20,227.77 L265.55,213.57 L265.90,212.51 L266.25,221.94 L266.60,217.92 L266.95,215.75 L267.30,211.80 L267.65,218.23 L268.00,226.67 L268.35,224.80 L268.70,214.17 L269.05,221.38 L269.40,214.35 L269.75,218.00 L270.10,227.94 L270.45,219.44 L270.80,229.76 L271.15,230.38 L271.50,217.03 L271.85,230.01 L272.20,219.72 L272.55,228.16 L272.90,216.35 L273.25,218.62 L273.60,225.49 L273.95,218.55 L274.30,218.43 L274.65,230.13 L275.00,230.14 L275.35,223.29 L275.70,218.48 L276.05,226.82 L276.40,233.63 L276.75,223.01 L277.10,226.02 L277.45,226.68 L277.80,228.08 L278.15,218.65 L278.50,231.52 L278.85,232.13 L279.20,233.59 L279.55,229.14 L279.90,222.85 L280.25,220.43 L280.60,229.95 L280.95,225.89 L281.30,227.80 L281.65,219.88 L282.00,228.38 L282.35,232.24 L282.70,223.59 L283.05,225.68 L283.40,230.46 L283.75,230.56 L284.10,232.27 L284.45,231.96 L284.80,223.45 L285.15,220.34 L285.50,226.93 L285.85,225.03 L286.20,232.70 L286.55,231.78 L286.90,234.46 L287.25,228.63 L287.60,228.04 L287.95,226.61 L288.30,226.32 L288.65,223.67 L289.00,222.27 L289.35,228.15 L289.70,224.95 L290.05,218.68 L290.40,226.37 L290.75,219.35 L291.10,217.55 L291.45,216.43 L291.80,216.93 L292.15,224.34 L292.50,223.92 L292.85,218.39 L293.20,223.25 L293.55,223.64 L293.90,215.69 L294.25,224.47 L294.60,221.66 L294.95,212.69 L295.30,217.61 L295.65,215.33 L296.00,211.19 L296.35,221.95 L296.70,214.59 L297.05,220.05 L297.40,220.99 L297.75,224.94 L298.10,223.10 L298.45,225.58 L298.80,227.48 L299.15,229.25 L299.50,230.55 L299.85,221.86 L300.20,223.45 L300.55,218.43 L300.90,221.52 L301.25,227.89 L301.60,226.84 L301.95,221.07 L302.30,228.89 L302.65,231.62 L303.00,230.78 L303.35,225.67 L303.70,221.92 L304.05,219.95 L304.40,228.60 L304.75,219.78 L305.10,220.12 L305.45,226.58 L305.80,222.00 L306.15,222.57 L306.50,222.79 L306.85,218.61 L307.20,220.76 L307.55,229.30 L307.90,223.78 L308.25,222.51 L308.60,226.79 L308.95,218.52 L309.30,218.45 L309.65,216.81 L310.00,219.06 L310.35,226.12 L310.70,225.24 L311.05,223.29 L311.40,228.98 L311.75,229.24 L312.10,233.36 L312.45,228.09 L312.80,225.40 L313.15,227.23 L313.50,232.09 L313.85,234.75 L314.20,229.91 L314.55,232.35 L314.90,223.81 L315.25,229.19 L315.60,229.97 L315.95,227.85 L316.30,230.31 L316.65,229.28 L317.00,229.29 L317.35,229.34 L317.70,226.19 L318.05,227.73 L318.40,226.71 L318.75,221.26 L319.10,222.20 L319.45,222.16 L319.80,233.24 L320.15,229.87 L320.50,230.25 L320.85,224.06 L321.20,224.35 L321.55,221.78 L321.90,228.80 L322.25,223.19 L322.60,223.49 L322.95,224.93 L323.30,229.26 L323.65,219.83 L324.00,228.29 L324.35,224.23 L324.70,219.60 L325.05,218.35 L325.40,221.39 L325.75,219.96 L326.10,223.37 L326.45,228.87 L326.80,230.58 L327.15,221.88 L327.50,226.71 L327.85,226.45 L328.20,228.63 L328.55,228.63 L328.90,222.41 L329.25,224.74 L329.60,225.67 L329.95,229.50 L330.30,231.81 L330.65,217.78 L331.00,222.21 L331.35,219.88 L331.70,229.73 L332.05,219.48 L332.40,217.40 L332.75,223.94 L333.10,228.03 L333.45,228.28 L333.80,230.29 L334.15,225.09 L334.50,221.30 L334.85,227.53 L335.20,226.64 L335.55,224.34 L335.90,221.81 L336.25,222.35 L336.60,229.44 L336.95,228.86 L337.30,230.19 L337.65,225.67 L338.00,228.32 L338.35,223.94 L338.70,229.13 L339.05,219.70 L339.40,226.15 L339.75,222.07 L340.10,225.90 L340.45,228.57 L340.80,229.40 L341.15,228.07 L341.50,232.79 L341.85,225.11 L342.20,223.50 L342.55,227.88 L342.90,227.90 L343.25,232.99 L343.60,231.39 L343.95,227.68 L344.30,228.79 L344.65,223.16 L345.00,234.55 L345.35,226.25 L345.70,226.51 L346.05,231.78 L346.40,226.38 L346.75,221.95 L347.10,224.13 L347.45,223.72 L347.80,226.49 L348.15,226.74 L348.50,228.95 L348.85,226.79 L349.20,223.47 L349.55,227.24 L349.90,223.04 L350.25,222.45 L350.60,221.54 L350.95,231.24 L351.30,225.06 L351.65,228.85 L352.00,219.80 L352.35,220.76 L352.70,229.86 L353.05,222.90 L353.40,230.65 L353.75,226.87 L354.10,219.50 L354.45,225.19 L354.80,224.77 L355.15,226.62 L355.50,224.76 L355.85,227.09 L356.20,233.97 L356.55,231.40 L356.90,228.41 L357.25,221.17 L357.60,223.61 L357.95,228.05 L358.30,226.58 L358.65,224.15 L359.00,232.99 L359.35,224.62 L359.70,226.36 L360.05,231.52 L360.40,233.07 L360.75,235.87 L361.10,228.28 L361.45,226.81 L361.80,229.02 L362.15,230.33 L362.50,222.35 L362.85,228.01 L363.20,224.21 L363.55,236.40 L363.90,226.71 L364.25,233.22 L364.60,223.80 L364.95,230.19 L365.30,232.89 L365.65,226.99 L366.00,224.07 L366.35,230.30 L366.70,227.69 L367.05,221.19 L367.40,224.94 L367.75,227.44 L368.10,230.57 L368.45,226.08 L368.80,221.41 L369.15,225.69 L369.50,231.38 L369.85,218.81 L370.20,225.39 L370.55,228.17 L370.90,229.47 L371.25,220.84 L371.60,223.37 L371.95,224.55 L372.30,219.27 L372.65,215.58 L373.00,226.17 L373.35,228.66 L373.70,225.91 L374.05,228.99 L374.40,228.22 L374.75,229.48 L375.10,219.58 L375.45,220.05 L375.80,222.93 L376.15,222.44 L376.50,222.41 L376.85,227.42 L377.20,226.54 L377.55,230.62 L377.90,228.26 L378.25,232.09 L378.60,225.98 L378.95,221.01 L379.30,224.01 L379.65,219.73 L380.00,221.17 L380.35,226.50 L380.70,229.31 L381.05,228.68 L381.40,227.38 L381.75,231.97 L382.10,222.33 L382.45,231.51 L382.80,221.26 L383.15,227.48 L383.50,220.32 L383.85,228.59 L384.20,227.99 L384.55,219.88 L384.90,219.73 L385.25,219.43 L385.60,218.14 L385.95,222.98 L386.30,218.95 L386.65,226.04 L387.00,217.11 L387.35,219.78 L387.70,223.70 L388.05,221.88 L388.40,226.92 L388.75,226.98 L389.10,221.06 L389.45,218.25 L389.80,228.95 L390.15,231.90 L390.50,228.78 L390.85,225.92 L391.20,227.82 L391.55,228.84 L391.90,222.99 L392.25,229.53 L392.60,223.85 L392.95,228.69 L393.30,226.95 L393.65,221.78 L394.00,234.25 L394.35,230.46 L394.70,232.11 L395.05,226.07 L395.40,232.54 L395.75,232.56 L396.10,231.96 L396.45,228.82 L396.80,229.22 L397.15,224.20 L397.50,223.93 L397.85,235.43 L398.20,231.98 L398.55,235.72 L398.90,227.03 L399.25,222.20 L399.60,225.13 L399.95,231.37 L400.30,228.73 L400.65,223.21 L401.00,235.71 L401.35,230.04 L401.70,229.21 L402.05,225.78 L402.40,231.59 L402.75,232.29 L403.10,234.39 L403.45,238.33 L403.80,232.12 L404.15,228.17" fill="none" stroke="#3592f2" stroke-width="0.9" stroke-linejoin="round"/>
<rect x="171.7" y="318" width="251.7" height="127" fill="none" stroke="#4a8ae0" stroke-width="1.5"/>
<line x1="171.00" y1="317.70" x2="424.00" y2="317.70" stroke="#3466b4" stroke-width="1.10" />
<line x1="201.10" y1="322.90" x2="418.80" y2="322.90" stroke="#d6d6d6" stroke-width="0.90" />
<line x1="201.10" y1="329.60" x2="418.80" y2="329.60" stroke="#d6d6d6" stroke-width="0.90" />
<line x1="201.10" y1="336.30" x2="418.80" y2="336.30" stroke="#d6d6d6" stroke-width="0.90" />
<line x1="201.10" y1="343.00" x2="418.80" y2="343.00" stroke="#d6d6d6" stroke-width="0.90" />
<line x1="201.10" y1="349.60" x2="418.80" y2="349.60" stroke="#d6d6d6" stroke-width="0.90" />
<line x1="201.10" y1="356.20" x2="418.80" y2="356.20" stroke="#d6d6d6" stroke-width="0.90" />
<line x1="248.20" y1="322.50" x2="248.20" y2="363.20" stroke="#d6d6d6" stroke-width="0.90" />
<line x1="297.00" y1="322.50" x2="297.00" y2="363.20" stroke="#d6d6d6" stroke-width="0.90" />
<line x1="345.80" y1="322.50" x2="345.80" y2="363.20" stroke="#d6d6d6" stroke-width="0.90" />
<line x1="394.60" y1="322.50" x2="394.60" y2="363.20" stroke="#d6d6d6" stroke-width="0.90" />
<path d="M201.10,322.5 V363.2 H418.80 V330" fill="none" stroke="#b5b5b5" stroke-width="0.8"/>
<path d="M203.10,322.70 L203.48,323.39 L203.87,324.06 L204.25,324.72 L204.64,325.37 L205.02,326.01 L205.41,326.63 L205.79,327.24 L206.18,327.84 L206.56,328.42 L206.95,328.99 L207.33,329.55 L207.72,330.09 L208.10,330.62 L208.48,331.13 L208.87,331.63 L209.25,332.12 L209.64,332.59 L210.02,333.05 L210.41,333.49 L210.79,333.92 L211.18,334.33 L211.56,334.72 L211.95,335.10 L212.33,335.47 L212.72,335.81 L213.10,336.14 L213.48,336.46 L213.87,336.75 L214.25,337.03 L214.64,337.29 L215.02,337.52 L215.41,337.74 L215.79,337.94 L216.18,338.12 L216.56,338.27 L216.95,338.40 L217.33,338.50 L217.72,338.57 L218.10,338.60 L418.80,338.60" fill="none" stroke="#ff7f86" stroke-width="1.3"/>
<rect x="201.00" y="355.60" width="1.60" height="7.40" fill="#1e85f5"/>
<rect x="242.80" y="333.60" width="1.40" height="29.40" fill="#3d95f2"/>
<rect x="245.80" y="332.40" width="1.40" height="30.60" fill="#3d95f2"/>
<rect x="248.00" y="332.40" width="1.50" height="30.60" fill="#3d95f2"/>
<rect x="246.00" y="343.00" width="1.00" height="20.00" fill="#ff1aa8"/>
<rect x="248.25" y="343.00" width="1.00" height="20.00" fill="#ff1aa8"/>
<rect x="264.90" y="357.90" width="2.00" height="5.10" fill="#ff1aa8"/>
<rect x="293.10" y="359.00" width="1.60" height="4.00" fill="#1e85f5"/>
<rect x="296.20" y="360.00" width="1.20" height="3.00" fill="#1e85f5"/>
<rect x="300.40" y="357.80" width="1.20" height="5.20" fill="#1e85f5"/>
<rect x="306.10" y="361.00" width="1.20" height="2.00" fill="#1e85f5"/>
<rect x="374.00" y="335.00" width="1.40" height="28.00" fill="#3d95f2"/>
<rect x="376.20" y="330.60" width="1.40" height="32.40" fill="#3d95f2"/>
<rect x="393.90" y="330.60" width="1.40" height="32.40" fill="#3d95f2"/>
<rect x="396.70" y="330.60" width="1.40" height="32.40" fill="#3d95f2"/>
<rect x="412.30" y="330.60" width="1.40" height="32.40" fill="#3d95f2"/>
<path d="M418,331 l3,-2.2 v4.4 z" fill="#ff1aa8"/>
<rect x="171" y="378.20" width="109" height="2.7" fill="#333"/>
<rect x="280" y="378.20" width="52.5" height="2.7" fill="#a8a8a8"/>
<rect x="332.5" y="378.20" width="91" height="2.7" fill="#2a2a2a"/>
<rect x="201" y="378.20" width="9.5" height="2.7" fill="#6a9ee0"/>
<line x1="171.00" y1="381.90" x2="423.50" y2="381.90" stroke="#1e85f5" stroke-width="1.30" />
<line x1="201.10" y1="387.70" x2="418.80" y2="387.70" stroke="#d6d6d6" stroke-width="0.90" />
<line x1="201.10" y1="399.30" x2="418.80" y2="399.30" stroke="#d6d6d6" stroke-width="0.90" />
<line x1="201.10" y1="409.30" x2="418.80" y2="409.30" stroke="#d6d6d6" stroke-width="0.90" />
<line x1="201.10" y1="419.20" x2="418.80" y2="419.20" stroke="#d6d6d6" stroke-width="0.90" />
<line x1="201.10" y1="423.90" x2="418.80" y2="423.90" stroke="#d6d6d6" stroke-width="0.90" />
<line x1="248.20" y1="387.50" x2="248.20" y2="427.30" stroke="#d6d6d6" stroke-width="0.90" />
<line x1="297.00" y1="387.50" x2="297.00" y2="427.30" stroke="#d6d6d6" stroke-width="0.90" />
<line x1="345.80" y1="387.50" x2="345.80" y2="427.30" stroke="#d6d6d6" stroke-width="0.90" />
<line x1="394.60" y1="387.50" x2="394.60" y2="427.30" stroke="#d6d6d6" stroke-width="0.90" />
<path d="M201.10,387.5 V427.3 H418.80 V387.5" fill="none" stroke="#b5b5b5" stroke-width="0.8"/>
<line x1="258.30" y1="387.50" x2="258.30" y2="427.30" stroke="#f5c070" stroke-width="0.80" />
<line x1="246.60" y1="386.50" x2="246.60" y2="427.30" stroke="#999" stroke-width="0.90" />
<path d="M201.50,394.83 L202.00,394.51 L202.50,397.08 L203.00,395.29 L203.50,396.32 L204.00,399.02 L204.50,396.89 L205.00,398.44 L205.50,395.26 L206.00,398.83 L206.50,395.85 L207.00,396.32 L207.50,398.73 L208.00,396.17 L208.50,399.64 L209.00,396.34 L209.50,400.59 L210.00,397.65 L210.50,400.87 L211.00,400.37 L211.50,400.80 L212.00,398.10 L212.50,402.20 L213.00,398.40 L213.50,401.59 L214.00,398.35 L214.50,403.00 L215.00,401.16 L215.50,402.22 L216.00,402.86 L216.50,401.40 L217.00,401.38 L217.50,402.44 L218.00,402.37 L218.50,400.97 L219.00,404.19 L219.50,400.13 L220.00,403.27 L220.50,403.14 L221.00,404.33 L221.50,404.05 L222.00,401.98 L222.50,402.90 L223.00,404.03 L223.50,401.73 L224.00,405.40 L224.50,405.75 L225.00,403.41 L225.50,403.54 L226.00,403.12 L226.50,404.41 L227.00,402.34 L227.50,405.27 L228.00,402.65 L228.50,404.96 L229.00,403.52 L229.50,404.87 L230.00,405.43 L230.50,403.93 L231.00,403.89 L231.50,403.67 L232.00,406.38 L232.50,405.40 L233.00,407.73 L233.50,404.64 L234.00,406.03 L234.50,403.83 L235.00,406.25 L235.50,407.66 L236.00,405.76 L236.50,404.75 L237.00,403.75 L237.50,404.74 L238.00,408.20 L238.50,407.22 L239.00,408.24 L239.50,405.82 L240.00,403.62 L240.50,405.24 L241.00,403.99 L241.50,404.08 L242.00,408.41 L242.50,406.40 L243.00,407.69 L243.50,407.76 L244.00,406.73 L244.50,404.66 L245.00,406.16 L245.50,408.82 L246.00,407.90 L246.50,404.67 L247.00,405.30 L247.50,407.17 L248.00,406.05 L248.50,407.83 L249.00,407.40 L249.50,404.83 L250.00,406.26 L250.50,407.66 L251.00,406.89 L251.50,407.22 L252.00,405.39 L252.50,407.44 L253.00,407.72 L253.50,408.36 L254.00,409.11 L254.50,405.81 L255.00,408.14 L255.50,409.61 L256.00,407.15 L256.50,407.43 L257.00,406.13 L257.50,407.98 L258.00,406.02 L258.50,408.37 L259.00,405.54 L259.50,409.79 L260.00,409.78 L260.50,407.10 L261.00,408.68 L261.50,408.42 L262.00,406.89 L262.50,406.04 L263.00,406.23 L263.50,410.64 L264.00,410.73 L264.50,405.98 L265.00,407.81 L265.50,406.39 L266.00,406.19 L266.50,408.56 L267.00,410.82 L267.50,408.75 L268.00,408.07 L268.50,410.24 L269.00,410.10 L269.50,407.32 L270.00,407.07 L270.50,407.81 L271.00,410.64 L271.50,411.19 L272.00,410.16 L272.50,410.20 L273.00,409.77 L273.50,409.60 L274.00,411.61 L274.50,407.90 L275.00,408.56 L275.50,410.23 L276.00,408.14 L276.50,409.13 L277.00,409.55 L277.50,410.70 L278.00,407.76 L278.50,410.42 L279.00,409.93 L279.50,412.40 L280.00,409.67 L280.50,410.89 L281.00,412.59 L281.50,408.71 L282.00,411.79 L282.50,408.88 L283.00,412.25 L283.50,410.78 L284.00,412.52 L284.50,412.78 L285.00,411.07 L285.50,409.52 L286.00,412.63 L286.50,413.03 L287.00,411.33 L287.50,413.03 L288.00,409.70 L288.50,409.22 L289.00,411.25 L289.50,409.19 L290.00,411.93 L290.50,409.17 L291.00,413.50 L291.50,411.32 L292.00,408.82 L292.50,412.62 L293.00,410.52 L293.50,413.55 L294.00,409.31 L294.50,413.71 L295.00,409.94 L295.50,412.99 L296.00,412.40 L296.50,410.15 L297.00,412.82 L297.50,409.70 L298.00,411.37 L298.50,410.20 L299.00,412.63 L299.50,412.62 L300.00,410.13 L300.50,411.33 L301.00,412.51 L301.50,414.10 L302.00,410.22 L302.50,409.97 L303.00,410.67 L303.50,411.33 L304.00,414.00 L304.50,410.91 L305.00,409.86 L305.50,413.17 L306.00,412.70 L306.50,412.25 L307.00,411.02 L307.50,412.34 L308.00,414.26 L308.50,411.38 L309.00,413.33 L309.50,410.71 L310.00,411.76 L310.50,411.85 L311.00,412.03 L311.50,410.95 L312.00,413.31 L312.50,411.96 L313.00,411.15 L313.50,410.70 L314.00,409.92 L314.50,411.04 L315.00,413.90 L315.50,414.18 L316.00,410.69 L316.50,412.30 L317.00,413.93 L317.50,409.86 L318.00,411.46 L318.50,409.82 L319.00,410.43 L319.50,410.85 L320.00,410.68 L320.50,410.38 L321.00,410.93 L321.50,414.80 L322.00,413.52 L322.50,414.73 L323.00,413.03 L323.50,410.11 L324.00,412.30 L324.50,414.87 L325.00,411.10 L325.50,412.96 L326.00,410.94 L326.50,413.89 L327.00,413.23 L327.50,414.61 L328.00,413.79 L328.50,412.38 L329.00,414.54 L329.50,411.93 L330.00,410.84 L330.50,411.57 L331.00,411.98 L331.50,414.83 L332.00,412.39 L332.50,411.32 L333.00,411.48 L333.50,412.15 L334.00,410.66 L334.50,412.81 L335.00,412.07 L335.50,411.32 L336.00,410.45 L336.50,412.79 L337.00,414.14 L337.50,410.73 L338.00,414.88 L338.50,414.04 L339.00,412.93 L339.50,411.67 L340.00,414.03 L340.50,410.46 L341.00,413.66 L341.50,410.24 L342.00,414.05 L342.50,411.82 L343.00,414.22 L343.50,413.78 L344.00,412.49 L344.50,413.34 L345.00,411.16 L345.50,411.66 L346.00,413.98 L346.50,414.77 L347.00,415.10 L347.50,413.92 L348.00,412.28 L348.50,410.77 L349.00,412.12 L349.50,410.67 L350.00,411.95 L350.50,413.45 L351.00,411.07 L351.50,413.73 L352.00,412.77 L352.50,412.36 L353.00,410.59 L353.50,414.29 L354.00,411.99 L354.50,411.82 L355.00,410.82 L355.50,413.93 L356.00,414.01 L356.50,413.48 L357.00,411.96 L357.50,413.44 L358.00,410.58 L358.50,414.73 L359.00,411.45 L359.50,411.58 L360.00,410.79 L360.50,414.84 L361.00,413.39 L361.50,414.69 L362.00,412.36 L362.50,415.17 L363.00,413.62 L363.50,410.93 L364.00,411.64 L364.50,413.77 L365.00,415.06 L365.50,411.52 L366.00,412.33 L366.50,412.81 L367.00,411.38 L367.00,419.65 L366.50,422.31 L366.00,422.99 L365.50,418.10 L365.00,417.50 L364.50,421.27 L364.00,421.28 L363.50,419.45 L363.00,419.52 L362.50,421.31 L362.00,423.30 L361.50,419.06 L361.00,422.69 L360.50,422.06 L360.00,421.17 L359.50,418.03 L359.00,421.13 L358.50,419.03 L358.00,420.63 L357.50,420.17 L357.00,420.74 L356.50,417.98 L356.00,419.49 L355.50,419.41 L355.00,420.68 L354.50,421.90 L354.00,419.92 L353.50,419.21 L353.00,418.70 L352.50,422.75 L352.00,420.34 L351.50,420.96 L351.00,417.58 L350.50,419.86 L350.00,422.96 L349.50,420.48 L349.00,418.71 L348.50,422.66 L348.00,420.17 L347.50,417.78 L347.00,421.62 L346.50,422.33 L346.00,423.16 L345.50,420.19 L345.00,419.64 L344.50,422.49 L344.00,422.89 L343.50,421.41 L343.00,417.72 L342.50,419.78 L342.00,421.42 L341.50,422.50 L341.00,418.44 L340.50,420.54 L340.00,422.79 L339.50,422.00 L339.00,419.42 L338.50,421.41 L338.00,419.22 L337.50,422.37 L337.00,422.37 L336.50,418.10 L336.00,422.54 L335.50,421.55 L335.00,422.99 L334.50,421.50 L334.00,419.28 L333.50,420.48 L333.00,417.57 L332.50,421.64 L332.00,417.36 L331.50,421.89 L331.00,416.99 L330.50,417.25 L330.00,419.06 L329.50,422.07 L329.00,421.96 L328.50,420.10 L328.00,420.17 L327.50,418.71 L327.00,417.05 L326.50,421.35 L326.00,422.65 L325.50,417.12 L325.00,422.79 L324.50,421.78 L324.00,422.05 L323.50,420.13 L323.00,418.22 L322.50,422.64 L322.00,418.97 L321.50,421.12 L321.00,418.30 L320.50,419.45 L320.00,421.90 L319.50,418.71 L319.00,422.03 L318.50,418.89 L318.00,419.35 L317.50,416.93 L317.00,421.92 L316.50,421.76 L316.00,418.63 L315.50,417.54 L315.00,420.85 L314.50,417.81 L314.00,418.14 L313.50,420.17 L313.00,418.73 L312.50,418.21 L312.00,417.19 L311.50,419.13 L311.00,420.16 L310.50,421.54 L310.00,421.67 L309.50,417.80 L309.00,418.84 L308.50,417.89 L308.00,418.63 L307.50,420.54 L307.00,419.31 L306.50,417.16 L306.00,417.36 L305.50,417.29 L305.00,421.21 L304.50,419.69 L304.00,417.32 L303.50,416.60 L303.00,420.74 L302.50,419.90 L302.00,419.16 L301.50,422.26 L301.00,420.20 L300.50,421.59 L300.00,420.20 L299.50,421.97 L299.00,422.13 L298.50,416.81 L298.00,418.32 L297.50,418.16 L297.00,416.78 L296.50,419.70 L296.00,416.45 L295.50,419.48 L295.00,418.81 L294.50,416.90 L294.00,419.80 L293.50,416.28 L293.00,418.82 L292.50,420.24 L292.00,421.02 L291.50,420.60 L291.00,417.86 L290.50,418.73 L290.00,420.49 L289.50,416.08 L289.00,417.45 L288.50,417.02 L288.00,416.03 L287.50,419.73 L287.00,419.77 L286.50,415.85 L286.00,419.99 L285.50,417.03 L285.00,419.67 L284.50,416.85 L284.00,415.61 L283.50,420.37 L283.00,419.30 L282.50,417.84 L282.00,420.42 L281.50,416.23 L281.00,415.22 L280.50,419.58 L280.00,419.58 L279.50,419.89 L279.00,417.65 L278.50,418.24 L278.00,418.22 L277.50,420.32 L277.00,415.10 L276.50,418.46 L276.00,418.05 L275.50,414.31 L275.00,418.53 L274.50,417.21 L274.00,415.96 L273.50,417.32 L273.00,418.03 L272.50,419.54 L272.00,418.42 L271.50,418.29 L271.00,417.48 L270.50,416.83 L270.00,418.11 L269.50,416.27 L269.00,415.82 L268.50,415.78 L268.00,418.14 L267.50,418.39 L267.00,418.84 L266.50,414.88 L266.00,416.13 L265.50,414.86 L265.00,415.20 L264.50,415.60 L264.00,417.00 L263.50,414.09 L263.00,418.43 L262.50,416.61 L262.00,413.59 L261.50,414.44 L261.00,416.75 L260.50,416.55 L260.00,414.18 L259.50,417.69 L259.00,416.98 L258.50,414.20 L258.00,414.03 L257.50,416.52 L257.00,413.70 L256.50,418.35 L256.00,412.98 L255.50,413.82 L255.00,413.02 L254.50,414.15 L254.00,415.05 L253.50,412.63 L253.00,414.14 L252.50,413.50 L252.00,415.23 L251.50,412.55 L251.00,412.18 L250.50,413.23 L250.00,417.59 L249.50,414.46 L249.00,416.75 L248.50,413.99 L248.00,412.52 L247.50,414.00 L247.00,415.09 L246.50,416.98 L246.00,412.08 L245.50,411.57 L245.00,412.93 L244.50,411.61 L244.00,412.07 L243.50,414.77 L243.00,413.92 L242.50,411.35 L242.00,416.22 L241.50,415.37 L241.00,411.03 L240.50,414.55 L240.00,415.90 L239.50,414.20 L239.00,410.72 L238.50,412.88 L238.00,412.36 L237.50,410.05 L237.00,415.15 L236.50,410.15 L236.00,411.80 L235.50,414.52 L235.00,411.92 L234.50,410.09 L234.00,410.21 L233.50,410.96 L233.00,414.03 L232.50,414.67 L232.00,413.92 L231.50,412.61 L231.00,413.43 L230.50,412.52 L230.00,412.84 L229.50,410.92 L229.00,409.58 L228.50,410.39 L228.00,411.84 L227.50,411.65 L227.00,411.96 L226.50,408.54 L226.00,408.25 L225.50,413.02 L225.00,410.78 L224.50,408.21 L224.00,412.68 L223.50,412.22 L223.00,409.26 L222.50,411.57 L222.00,408.65 L221.50,409.46 L221.00,407.68 L220.50,410.84 L220.00,412.09 L219.50,409.77 L219.00,408.08 L218.50,411.21 L218.00,411.31 L217.50,410.23 L217.00,408.01 L216.50,411.03 L216.00,409.56 L215.50,408.73 L215.00,405.18 L214.50,409.95 L214.00,409.46 L213.50,405.77 L213.00,408.40 L212.50,404.05 L212.00,405.59 L211.50,403.56 L211.00,404.57 L210.50,408.22 L210.00,403.49 L209.50,406.66 L209.00,405.24 L208.50,403.31 L208.00,404.72 L207.50,406.23 L207.00,407.08 L206.50,406.64 L206.00,405.66 L205.50,406.33 L205.00,403.67 L204.50,406.19 L204.00,405.48 L203.50,404.21 L203.00,407.06 L202.50,405.23 L202.00,401.36 L201.50,402.12 Z" fill="#2590fc" fill-opacity="1.00" stroke="none"/>
<path d="M201.50,397.08 L202.00,402.83 L202.50,393.47 L203.00,409.42 L203.50,397.25 L204.00,403.66 L204.50,402.23 L205.00,400.83 L205.50,398.65 L206.00,404.99 L206.50,394.53 L207.00,409.60 L207.50,404.98 L208.00,397.79 L208.50,394.71 L209.00,395.10 L209.50,395.93 L210.00,401.84 L210.50,394.82 L211.00,409.14 L211.50,409.92 L212.00,397.42 L212.50,395.37 L213.00,405.56 L213.50,411.44 L214.00,402.03 L214.50,412.97 L215.00,414.33 L215.50,411.65 L216.00,405.80 L216.50,414.31 L217.00,399.12 L217.50,413.13 L218.00,406.97 L218.50,412.36 L219.00,410.72 L219.50,399.76 L220.00,407.65 L220.50,401.11 L221.00,405.39 L221.50,410.62 L222.00,411.07 L222.50,402.85 L223.00,407.08 L223.50,413.26 L224.00,416.39 L224.50,414.02 L225.00,410.83 L225.50,416.47 L226.00,405.21 L226.50,413.11 L227.00,404.97 L227.50,414.95 L228.00,403.98 L228.50,411.99 L229.00,415.93 L229.50,414.12 L230.00,403.25 L230.50,410.76 L231.00,409.75 L231.50,405.89 L232.00,407.92 L232.50,403.80 L233.00,404.06 L233.50,419.63 L234.00,412.98 L234.50,403.85 L235.00,411.49 L235.50,404.28 L236.00,406.56 L236.50,403.66 L237.00,408.40 L237.50,415.94 L238.00,406.66 L238.50,409.04 L239.00,414.47 L239.50,410.31 L240.00,409.99 L240.50,413.97 L241.00,410.97 L241.50,414.36 L242.00,404.75 L242.50,417.80 L243.00,416.53 L243.50,414.65 L244.00,415.17 L244.50,418.66 L245.00,413.52 L245.50,413.85 L246.00,412.21 L246.50,391.50 L247.00,406.91 L247.50,407.52 L248.00,412.39 L248.50,420.03 L249.00,418.84 L249.50,406.74 L250.00,405.72 L250.50,411.51 L251.00,420.12 L251.50,406.88 L252.00,414.67 L252.50,410.39 L253.00,410.48 L253.50,413.92 L254.00,411.46 L254.50,412.55 L255.00,415.62 L255.50,416.45 L256.00,412.90 L256.50,415.77 L257.00,409.57 L257.50,408.07 L258.00,413.55 L258.50,405.98 L259.00,410.71 L259.50,416.09 L260.00,420.94 L260.50,411.46 L261.00,414.91 L261.50,420.31 L262.00,405.97 L262.50,419.71 L263.00,418.95 L263.50,414.15 L264.00,408.04 L264.50,418.79 L265.00,421.34 L265.50,414.85 L266.00,412.92 L266.50,420.39 L267.00,420.68 L267.50,412.21 L268.00,413.60 L268.50,415.19 L269.00,422.02 L269.50,415.49 L270.00,418.80 L270.50,408.93 L271.00,411.73 L271.50,410.04 L272.00,410.84 L272.50,415.38 L273.00,417.32 L273.50,419.46 L274.00,413.73 L274.50,410.40 L275.00,422.33 L275.50,409.15 L276.00,412.31 L276.50,417.58 L277.00,410.08 L277.50,415.97 L278.00,415.55 L278.50,419.97 L279.00,419.17 L279.50,415.89 L280.00,410.22 L280.50,414.63 L281.00,411.44 L281.50,413.15 L282.00,415.79 L282.50,411.52 L283.00,418.45 L283.50,413.36 L284.00,421.72 L284.50,416.24 L285.00,421.50 L285.50,417.04 L286.00,413.76 L286.50,420.45 L287.00,418.89 L287.50,408.64 L288.00,412.17 L288.50,409.72 L289.00,414.05 L289.50,410.59 L290.00,413.48 L290.50,413.92 L291.00,415.30 L291.50,414.14 L292.00,421.53 L292.50,410.84 L293.00,412.73 L293.50,419.58 L294.00,414.56 L294.50,408.53 L295.00,408.72 L295.50,418.55 L296.00,422.80 L296.50,414.50 L297.00,413.69 L297.50,416.61 L298.00,410.56 L298.50,420.19 L299.00,417.61 L299.50,422.37 L300.00,421.16 L300.50,411.58 L301.00,423.76 L301.50,414.66 L302.00,411.77 L302.50,415.57 L303.00,416.54 L303.50,417.17 L304.00,420.98 L304.50,413.01 L305.00,414.33 L305.50,416.92 L306.00,424.94 L306.50,413.54 L307.00,409.03 L307.50,409.77 L308.00,418.53 L308.50,424.56 L309.00,408.87 L309.50,411.63 L310.00,420.08 L310.50,422.10 L311.00,411.25 L311.50,416.35 L312.00,413.55 L312.50,419.44 L313.00,418.82 L313.50,417.94 L314.00,410.22 L314.50,414.31 L315.00,420.98 L315.50,411.33 L316.00,423.32 L316.50,408.94 L317.00,422.65 L317.50,416.91 L318.00,417.67 L318.50,419.00 L319.00,417.34 L319.50,422.68 L320.00,415.17 L320.50,425.10 L321.00,411.14 L321.50,416.58 L322.00,414.41 L322.50,418.18 L323.00,415.14 L323.50,420.07 L324.00,418.06 L324.50,420.61 L325.00,417.18 L325.50,415.29 L326.00,414.79 L326.50,415.29 L327.00,418.91 L327.50,421.92 L328.00,411.94 L328.50,412.58 L329.00,413.40 L329.50,410.27 L330.00,422.32 L330.50,413.22 L331.00,415.02 L331.50,413.70 L332.00,419.52 L332.50,414.13 L333.00,418.94 L333.50,418.22 L334.00,425.57 L334.50,417.10 L335.00,420.49 L335.50,423.27 L336.00,419.20 L336.50,415.30 L337.00,410.89 L337.50,423.65 L338.00,426.15 L338.50,413.13 L339.00,424.97 L339.50,423.30 L340.00,412.64 L340.50,420.88 L341.00,410.41 L341.50,412.83 L342.00,418.80 L342.50,415.52 L343.00,422.36 L343.50,420.41 L344.00,422.79 L344.50,418.10 L345.00,417.44 L345.50,411.99 L346.00,410.80 L346.50,422.98 L347.00,411.04 L347.50,414.48 L348.00,415.38 L348.50,423.02 L349.00,418.01 L349.50,411.45 L350.00,415.63 L350.50,411.46 L351.00,426.22 L351.50,413.43 L352.00,418.64 L352.50,414.52 L353.00,423.11 L353.50,421.75 L354.00,416.89 L354.50,415.34 L355.00,417.45 L355.50,415.74 L356.00,412.10 L356.50,413.03 L357.00,415.25 L357.50,422.08 L358.00,422.88 L358.50,420.01 L359.00,411.26 L359.50,413.49 L360.00,409.39 L360.50,419.01 L361.00,413.23 L361.50,415.19 L362.00,414.24 L362.50,423.62 L363.00,415.77 L363.50,417.08 L364.00,418.90 L364.50,421.27 L365.00,416.40 L365.50,412.96 L366.00,422.87 L366.50,419.28 L367.00,413.01" fill="none" stroke="#2590fc" stroke-width="0.7"/>
<path d="M367.00,411.00 L367.80,420.68 L368.60,411.59 L369.40,419.63 L370.20,413.50 L371.00,420.78 L371.80,413.62 L372.60,421.08 L373.40,412.30 L374.20,418.48 L375.00,416.03 L375.80,421.01 L376.60,409.69 L377.40,419.85 L378.20,408.71 L379.00,418.05 L379.80,412.57 L380.60,419.40 L381.40,410.73 L382.20,420.79 L383.00,413.69 L383.80,419.15 L384.60,406.28 L385.40,419.68 L386.20,407.93 L387.00,421.98 L387.80,407.48 L388.60,420.78 L389.40,413.98 L390.20,421.66 L391.00,404.11 L391.80,418.58 L392.60,407.12 L393.40,418.08 L394.20,393.50 L395.00,419.61 L395.80,411.99 L396.60,420.50 L397.40,408.45 L398.20,418.26 L399.00,409.73 L399.80,420.21 L400.60,414.80 L401.40,420.32 L402.20,406.61 L403.00,419.44 L403.80,413.27 L404.60,419.16 L405.40,406.70 L406.20,418.71 L407.00,412.91 L407.80,421.48 L408.60,412.69 L409.40,419.32 L410.20,408.86 L411.00,421.53 L411.80,409.39 L412.60,421.81 L413.40,415.86 L414.20,420.72 L415.00,416.02 L415.80,421.77 L416.60,413.83 L417.40,420.96 L418.20,410.43 L419.00,418.15" fill="none" stroke="#2590fc" stroke-width="0.9"/>
<path d="M201.50,400.53 L202.00,400.27 L202.50,401.99 L203.00,401.25 L203.50,404.35 L204.00,405.47 L204.50,401.40 L205.00,402.22 L205.50,404.92 L206.00,403.85 L206.50,402.74 L207.00,403.78 L207.50,405.75 L208.00,407.59 L208.50,403.43 L209.00,407.13 L209.50,406.04 L210.00,405.46 L210.50,408.14 L211.00,407.42 L211.50,407.43 L212.00,407.69 L212.50,407.50 L213.00,409.33 L213.50,411.37 L214.00,408.27 L214.50,410.64 L215.00,408.93 L215.50,414.12 L216.00,412.38 L216.50,411.55 L217.00,410.81 L217.50,412.80 L218.00,411.74 L218.50,416.71 L219.00,413.33 L219.50,414.36 L220.00,413.77 L220.50,418.01 L221.00,418.49 L221.50,416.69 L222.00,417.82 L222.50,415.08 L223.00,419.16 L223.50,415.63 L224.00,416.04 L224.50,417.05 L225.00,417.68 L225.50,420.16 L226.00,419.28 L226.50,417.13 L227.00,417.70 L227.50,418.65 L228.00,421.43 L228.50,419.78 L229.00,418.49 L229.50,417.96 L230.00,422.26 L230.50,419.45 L231.00,420.51 L231.50,421.26 L232.00,422.55 L232.50,422.99 L233.00,421.83 L233.50,419.74 L234.00,422.79 L234.50,419.23 L235.00,419.87 L235.50,423.40 L236.00,423.00 L236.50,422.88 L237.00,421.89 L237.50,422.60 L238.00,422.42 L238.50,420.61 L239.00,420.26 L239.50,420.13 L240.00,420.43 L240.50,423.84 L241.00,421.86 L241.50,420.90 L242.00,422.42 L242.50,420.62 L243.00,422.96 L243.50,421.16 L244.00,421.13 L244.50,422.35 L245.00,420.71 L245.50,421.25 L246.00,420.87 L246.50,420.49 L247.00,422.36 L247.50,421.68 L248.00,421.18 L248.50,420.38 L249.00,422.63 L249.50,424.25 L250.00,420.98 L250.50,420.62 L251.00,423.74 L251.50,420.67 L252.00,423.77 L252.50,421.68 L253.00,423.76 L253.50,424.06 L254.00,421.98 L254.50,421.59 L255.00,421.02 L255.50,421.66 L256.00,422.21 L256.50,423.01 L257.00,423.77 L257.50,422.67 L258.00,423.97 L258.50,422.78 L259.00,422.81 L259.50,421.77 L260.00,423.47 L260.50,424.77 L261.00,423.54 L261.50,422.23 L262.00,424.31 L262.50,423.29 L263.00,422.20 L263.50,421.99 L264.00,423.57 L264.50,422.32 L265.00,422.85 L265.50,422.32 L266.00,423.78 L266.50,422.06 L267.00,423.25 L267.50,423.72 L268.00,424.74 L268.50,423.64 L269.00,423.30 L269.50,422.51 L270.00,423.88 L270.50,422.53 L271.00,424.87 L271.50,423.92 L272.00,424.72 L272.50,423.34 L273.00,423.12 L273.50,422.42 L274.00,422.12 L274.50,422.86 L275.00,422.33 L275.50,423.49 L276.00,423.60 L276.50,422.86 L277.00,424.95 L277.50,422.82 L278.00,422.84 L278.50,422.91 L279.00,423.03 L279.50,422.10 L280.00,422.90 L280.50,424.55 L281.00,423.67 L281.50,424.52 L282.00,422.14 L282.50,424.54 L283.00,422.64 L283.50,422.76 L284.00,424.16 L284.50,424.20 L285.00,422.26 L285.50,424.10 L286.00,422.57 L286.50,424.15 L287.00,424.79 L287.50,423.34 L288.00,423.82 L288.50,422.50 L289.00,422.77 L289.50,424.48 L290.00,424.14 L290.50,424.64 L291.00,423.40 L291.50,425.11 L292.00,422.60 L292.50,425.10 L293.00,423.07 L293.50,422.96 L294.00,423.46 L294.50,424.83 L295.00,425.09 L295.50,424.39 L296.00,423.80 L296.50,423.45 L297.00,423.23 L297.50,424.60 L298.00,422.91 L298.50,424.71 L299.00,423.34 L299.50,424.61 L300.00,423.13 L300.50,422.95 L301.00,423.66 L301.50,423.20 L302.00,423.46 L302.50,424.23 L303.00,423.27 L303.50,422.94 L304.00,424.49 L304.50,424.84 L305.00,423.35 L305.50,424.38 L306.00,424.01 L306.50,424.94 L307.00,425.02 L307.50,423.81 L308.00,424.65 L308.50,424.42 L309.00,423.80 L309.50,424.41 L310.00,423.78 L310.50,423.27 L311.00,423.64 L311.50,422.95 L312.00,423.24 L312.50,424.83 L313.00,423.09 L313.50,423.36 L314.00,424.79 L314.50,422.88 L315.00,423.95 L315.50,424.88 L316.00,423.19 L316.50,423.97 L317.00,423.23 L317.50,423.32 L318.00,424.18 L318.50,423.52 L319.00,423.05 L319.50,423.94 L320.00,423.20 L320.50,422.92 L321.00,422.99 L321.50,424.06 L322.00,424.58 L322.50,424.58 L323.00,423.60 L323.50,424.05 L324.00,423.16 L324.50,423.05 L325.00,424.46 L325.50,424.33 L326.00,424.38 L326.50,423.59 L327.00,423.55 L327.50,423.03 L328.00,425.13 L328.50,424.67 L329.00,423.56 L329.50,424.15 L330.00,424.16 L330.50,423.86 L331.00,424.08 L331.50,425.12 L332.00,425.08 L332.50,423.65 L333.00,423.23 L333.50,423.09 L334.00,424.73 L334.50,423.39 L335.00,424.62 L335.50,424.01 L336.00,424.09 L336.50,425.18 L337.00,424.25 L337.50,425.12 L338.00,423.92 L338.50,423.72 L339.00,424.56 L339.50,424.22 L340.00,422.98 L340.50,424.64 L341.00,424.93 L341.50,425.20 L342.00,424.47 L342.50,423.45 L343.00,423.50 L343.50,425.13 L344.00,425.23 L344.50,423.10 L345.00,425.39 L345.50,424.86 L346.00,423.72 L346.50,425.08 L347.00,423.96 L347.50,423.03 L348.00,424.47 L348.50,424.66 L349.00,423.44 L349.50,425.08 L350.00,424.31 L350.50,423.37 L351.00,423.75 L351.50,425.28 L352.00,423.57 L352.50,425.27 L353.00,423.74 L353.50,423.17 L354.00,424.35 L354.50,423.59 L355.00,424.19 L355.50,424.61 L356.00,425.25 L356.50,423.31 L357.00,423.10 L357.50,423.66 L358.00,423.41 L358.50,425.00 L359.00,424.25 L359.50,424.85 L360.00,423.24 L360.50,423.54 L361.00,425.40 L361.50,423.83 L362.00,424.64 L362.50,424.01 L363.00,425.30 L363.50,425.21 L364.00,425.27 L364.50,424.63 L365.00,423.61 L365.50,423.87 L366.00,425.44 L366.50,424.69 L367.00,423.69 L367.50,424.00 L368.00,424.11 L368.50,423.58 L369.00,423.27 L369.50,424.34 L370.00,424.41 L370.50,424.03 L371.00,424.19 L371.50,424.94 L372.00,423.50 L372.50,425.46 L373.00,423.21 L373.50,423.12 L374.00,425.24 L374.50,424.71 L375.00,424.87 L375.50,425.04 L376.00,424.25 L376.50,423.29 L377.00,425.32 L377.50,424.89 L378.00,425.27 L378.50,424.66 L379.00,424.27 L379.50,424.58 L380.00,425.06 L380.50,424.18 L381.00,424.84 L381.50,425.10 L382.00,423.73 L382.50,423.44 L383.00,424.37 L383.50,424.29 L384.00,424.21 L384.50,424.02 L385.00,423.80 L385.50,424.55 L386.00,423.52 L386.50,424.91 L387.00,423.69 L387.50,425.50 L388.00,425.08 L388.50,424.76 L389.00,425.53 L389.50,423.19 L390.00,424.74 L390.50,424.32 L391.00,425.05 L391.50,423.39 L392.00,423.98 L392.50,424.87 L393.00,424.65 L393.50,423.49 L394.00,424.86 L394.50,425.36 L395.00,425.18 L395.50,423.61 L396.00,423.62 L396.50,425.48 L397.00,424.81 L397.50,424.46 L398.00,423.89 L398.50,423.51 L399.00,425.26 L399.50,423.70 L400.00,423.79 L400.50,423.29 L401.00,423.41 L401.50,423.47 L402.00,423.75 L402.50,423.31 L403.00,424.06 L403.50,423.70 L404.00,425.33 L404.50,424.42 L405.00,423.94 L405.50,424.44 L406.00,423.27 L406.50,424.16 L407.00,424.96 L407.50,424.72 L408.00,424.96 L408.50,424.61 L409.00,424.60 L409.50,425.27 L410.00,423.36 L410.50,424.47 L411.00,424.27 L411.50,425.42 L412.00,425.12 L412.50,424.31 L413.00,425.43 L413.50,424.97 L414.00,424.61 L414.50,423.96 L415.00,425.65 L415.50,423.82 L416.00,425.25 L416.50,424.03 L417.00,424.91 L417.50,424.84 L418.00,424.74 L418.50,425.21 L418.50,427.30 L418.00,425.42 L417.50,427.30 L417.00,427.30 L416.50,425.73 L416.00,427.30 L415.50,426.11 L415.00,425.40 L414.50,426.32 L414.00,426.16 L413.50,427.30 L413.00,427.13 L412.50,427.30 L412.00,427.08 L411.50,427.30 L411.00,427.18 L410.50,427.30 L410.00,427.30 L409.50,427.30 L409.00,425.60 L408.50,427.30 L408.00,427.30 L407.50,427.30 L407.00,426.96 L406.50,426.33 L406.00,426.44 L405.50,425.42 L405.00,425.97 L404.50,427.24 L404.00,425.54 L403.50,426.49 L403.00,427.30 L402.50,427.30 L402.00,427.30 L401.50,427.30 L401.00,426.46 L400.50,427.30 L400.00,426.84 L399.50,427.30 L399.00,425.41 L398.50,426.06 L398.00,427.30 L397.50,427.06 L397.00,427.30 L396.50,427.30 L396.00,427.30 L395.50,426.56 L395.00,427.30 L394.50,427.30 L394.00,425.52 L393.50,427.30 L393.00,427.08 L392.50,425.82 L392.00,426.00 L391.50,427.30 L391.00,426.90 L390.50,426.51 L390.00,426.23 L389.50,427.30 L389.00,427.30 L388.50,426.29 L388.00,427.30 L387.50,427.30 L387.00,426.26 L386.50,427.30 L386.00,426.46 L385.50,425.80 L385.00,425.82 L384.50,427.24 L384.00,427.30 L383.50,427.30 L383.00,425.61 L382.50,425.64 L382.00,425.30 L381.50,427.30 L381.00,427.30 L380.50,427.30 L380.00,427.30 L379.50,426.65 L379.00,427.06 L378.50,427.30 L378.00,427.30 L377.50,427.30 L377.00,425.65 L376.50,427.30 L376.00,427.30 L375.50,425.92 L375.00,427.30 L374.50,427.30 L374.00,427.30 L373.50,427.30 L373.00,426.43 L372.50,427.30 L372.00,427.30 L371.50,427.30 L371.00,427.30 L370.50,427.30 L370.00,427.30 L369.50,426.45 L369.00,427.30 L368.50,427.01 L368.00,426.96 L367.50,425.40 L367.00,427.30 L366.50,427.30 L366.00,427.30 L365.50,427.30 L365.00,427.30 L364.50,425.39 L364.00,426.86 L363.50,427.30 L363.00,425.50 L362.50,427.29 L362.00,426.52 L361.50,427.30 L361.00,426.09 L360.50,427.18 L360.00,427.14 L359.50,427.30 L359.00,427.30 L358.50,427.30 L358.00,426.23 L357.50,425.82 L357.00,425.78 L356.50,427.30 L356.00,427.30 L355.50,427.30 L355.00,427.30 L354.50,427.30 L354.00,426.28 L353.50,425.67 L353.00,426.96 L352.50,426.24 L352.00,427.30 L351.50,426.39 L351.00,427.19 L350.50,426.25 L350.00,426.18 L349.50,427.30 L349.00,427.30 L348.50,426.74 L348.00,427.30 L347.50,427.30 L347.00,427.30 L346.50,427.30 L346.00,425.36 L345.50,427.30 L345.00,427.30 L344.50,425.42 L344.00,427.30 L343.50,426.70 L343.00,427.30 L342.50,426.05 L342.00,427.30 L341.50,427.30 L341.00,426.20 L340.50,427.30 L340.00,427.21 L339.50,427.30 L339.00,427.30 L338.50,427.30 L338.00,426.77 L337.50,427.30 L337.00,427.02 L336.50,426.77 L336.00,427.30 L335.50,427.30 L335.00,427.30 L334.50,427.30 L334.00,427.30 L333.50,427.30 L333.00,426.82 L332.50,427.30 L332.00,427.08 L331.50,427.30 L331.00,427.30 L330.50,425.76 L330.00,425.40 L329.50,426.53 L329.00,426.72 L328.50,427.26 L328.00,427.22 L327.50,426.27 L327.00,426.52 L326.50,427.30 L326.00,427.28 L325.50,426.09 L325.00,427.30 L324.50,425.52 L324.00,425.81 L323.50,426.98 L323.00,426.40 L322.50,425.57 L322.00,427.30 L321.50,427.12 L321.00,426.45 L320.50,427.30 L320.00,427.30 L319.50,427.11 L319.00,427.30 L318.50,425.74 L318.00,426.33 L317.50,426.42 L317.00,426.26 L316.50,427.18 L316.00,427.30 L315.50,427.30 L315.00,427.30 L314.50,427.30 L314.00,425.40 L313.50,427.30 L313.00,426.14 L312.50,426.72 L312.00,427.30 L311.50,427.30 L311.00,427.30 L310.50,427.30 L310.00,426.82 L309.50,427.30 L309.00,427.30 L308.50,427.30 L308.00,426.04 L307.50,427.30 L307.00,426.75 L306.50,426.37 L306.00,426.77 L305.50,427.30 L305.00,427.30 L304.50,427.30 L304.00,425.63 L303.50,426.01 L303.00,427.30 L302.50,427.30 L302.00,427.05 L301.50,427.30 L301.00,427.30 L300.50,427.30 L300.00,426.12 L299.50,427.30 L299.00,427.30 L298.50,427.30 L298.00,425.79 L297.50,427.30 L297.00,427.30 L296.50,427.30 L296.00,427.30 L295.50,425.96 L295.00,426.08 L294.50,427.30 L294.00,426.38 L293.50,426.75 L293.00,425.38 L292.50,427.08 L292.00,427.30 L291.50,425.56 L291.00,425.35 L290.50,427.30 L290.00,427.30 L289.50,427.30 L289.00,427.30 L288.50,427.30 L288.00,427.30 L287.50,427.30 L287.00,426.55 L286.50,425.42 L286.00,427.30 L285.50,427.30 L285.00,426.16 L284.50,425.38 L284.00,427.30 L283.50,426.02 L283.00,427.30 L282.50,427.20 L282.00,426.45 L281.50,427.30 L281.00,425.58 L280.50,427.30 L280.00,426.38 L279.50,427.30 L279.00,426.22 L278.50,427.30 L278.00,425.95 L277.50,426.62 L277.00,427.05 L276.50,426.59 L276.00,425.58 L275.50,425.48 L275.00,426.96 L274.50,427.30 L274.00,426.12 L273.50,427.30 L273.00,425.40 L272.50,425.75 L272.00,427.30 L271.50,426.28 L271.00,427.30 L270.50,426.22 L270.00,427.30 L269.50,425.60 L269.00,426.39 L268.50,425.65 L268.00,427.30 L267.50,427.30 L267.00,426.00 L266.50,427.18 L266.00,425.72 L265.50,427.26 L265.00,425.95 L264.50,425.97 L264.00,427.30 L263.50,427.30 L263.00,425.48 L262.50,427.30 L262.00,427.14 L261.50,427.30 L261.00,427.30 L260.50,427.30 L260.00,426.33 L259.50,426.74 L259.00,427.30 L258.50,427.30 L258.00,427.30 L257.50,425.99 L257.00,427.30 L256.50,427.28 L256.00,427.30 L255.50,427.30 L255.00,427.30 L254.50,427.30 L254.00,426.14 L253.50,425.36 L253.00,425.73 L252.50,427.30 L252.00,427.30 L251.50,425.56 L251.00,427.30 L250.50,427.30 L250.00,427.30 L249.50,427.30 L249.00,426.05 L248.50,427.30 L248.00,427.30 L247.50,427.30 L247.00,425.38 L246.50,427.30 L246.00,425.69 L245.50,427.30 L245.00,427.30 L244.50,425.83 L244.00,427.30 L243.50,426.56 L243.00,427.30 L242.50,425.87 L242.00,425.92 L241.50,425.72 L241.00,425.43 L240.50,427.08 L240.00,426.74 L239.50,427.30 L239.00,426.96 L238.50,427.30 L238.00,425.96 L237.50,426.13 L237.00,427.30 L236.50,426.83 L236.00,426.37 L235.50,426.06 L235.00,426.39 L234.50,427.30 L234.00,427.04 L233.50,426.09 L233.00,427.30 L232.50,427.30 L232.00,427.30 L231.50,427.30 L231.00,427.29 L230.50,427.30 L230.00,427.30 L229.50,427.24 L229.00,427.30 L228.50,427.30 L228.00,426.74 L227.50,425.90 L227.00,426.00 L226.50,425.64 L226.00,425.54 L225.50,427.30 L225.00,427.30 L224.50,426.19 L224.00,426.76 L223.50,427.30 L223.00,426.77 L222.50,425.57 L222.00,424.93 L221.50,425.24 L221.00,426.10 L220.50,425.05 L220.00,425.21 L219.50,423.86 L219.00,423.41 L218.50,423.53 L218.00,421.53 L217.50,422.15 L217.00,421.50 L216.50,420.82 L216.00,419.33 L215.50,421.40 L215.00,421.64 L214.50,419.12 L214.00,419.82 L213.50,419.89 L213.00,418.20 L212.50,417.56 L212.00,418.80 L211.50,418.30 L211.00,417.67 L210.50,416.70 L210.00,416.79 L209.50,415.71 L209.00,415.54 L208.50,415.02 L208.00,413.31 L207.50,413.84 L207.00,415.70 L206.50,412.93 L206.00,412.12 L205.50,411.43 L205.00,412.06 L204.50,412.55 L204.00,411.55 L203.50,413.79 L203.00,411.77 L202.50,410.54 L202.00,412.85 L201.50,413.55 Z" fill="#ff1aa8" fill-opacity="1.00" stroke="none"/>
<path d="M201.50,405.03 L202.00,414.04 L202.50,412.60 L203.00,412.76 L203.50,403.94 L204.00,412.88 L204.50,414.46 L205.00,404.12 L205.50,404.60 L206.00,412.81 L206.50,408.02 L207.00,411.94 L207.50,411.62 L208.00,406.35 L208.50,411.02 L209.00,406.30 L209.50,411.66 L210.00,410.79 L210.50,404.45 L211.00,413.21 L211.50,417.95 L212.00,408.05 L212.50,411.96 L213.00,419.37 L213.50,407.95 L214.00,415.65 L214.50,415.43 L215.00,415.32 L215.50,410.63 L216.00,411.71 L216.50,416.94 L217.00,421.43 L217.50,419.54 L218.00,412.70 L218.50,417.62 L219.00,412.34 L219.50,413.23 L220.00,413.95 L220.50,421.96 L221.00,422.89 L221.50,417.69 L222.00,420.64 L222.50,421.32 L223.00,419.05 L223.50,422.39 L224.00,425.96 L224.50,417.74 L225.00,421.86 L225.50,426.26 L226.00,416.67 L226.50,426.72 L227.00,422.70 L227.50,420.43 L228.00,423.56 L228.50,420.82 L229.00,421.57 L229.50,422.63 L230.00,427.00 L230.50,424.59 L231.00,421.70 L231.50,418.20 L232.00,423.71 L232.50,422.25 L233.00,418.93 L233.50,425.41 L234.00,422.33 L234.50,425.12 L235.00,421.87 L235.50,421.27 L236.00,425.61 L236.50,420.89 L237.00,420.93 L237.50,419.15 L238.00,422.15 L238.50,425.06 L239.00,425.70 L239.50,426.68 L240.00,422.21 L240.50,418.79 L241.00,426.11 L241.50,421.80 L242.00,425.38 L242.50,423.85 L243.00,421.19 L243.50,421.02 L244.00,419.45 L244.50,421.61 L245.00,419.83 L245.50,419.78 L246.00,421.68 L246.50,420.15 L247.00,421.45 L247.50,422.34 L248.00,426.82 L248.50,424.31 L249.00,426.20 L249.50,421.80 L250.00,421.55 L250.50,422.40 L251.00,422.19 L251.50,422.23 L252.00,420.72 L252.50,423.44 L253.00,424.94 L253.50,421.41 L254.00,425.29 L254.50,423.57 L255.00,422.27 L255.50,425.36 L256.00,423.71 L256.50,425.99 L257.00,426.23 L257.50,426.06 L258.00,424.03 L258.50,422.94 L259.00,420.93 L259.50,424.03 L260.00,425.20 L260.50,425.62 L261.00,421.99 L261.50,422.84 L262.00,423.79 L262.50,424.08 L263.00,425.33 L263.50,424.31 L264.00,425.51 L264.50,426.84 L265.00,427.00 L265.50,425.26 L266.00,424.79 L266.50,426.57 L267.00,427.00 L267.50,423.50 L268.00,422.91 L268.50,421.50 L269.00,422.21 L269.50,427.00 L270.00,426.64 L270.50,425.07 L271.00,425.65 L271.50,422.79 L272.00,422.01 L272.50,425.79 L273.00,424.81 L273.50,422.71 L274.00,423.66 L274.50,421.99 L275.00,422.92 L275.50,424.66 L276.00,426.34 L276.50,422.26 L277.00,422.79 L277.50,424.00 L278.00,421.88 L278.50,425.98 L279.00,425.16 L279.50,424.99 L280.00,423.22 L280.50,424.53 L281.00,427.00 L281.50,425.42 L282.00,423.74 L282.50,427.00 L283.00,424.12 L283.50,425.85 L284.00,425.49 L284.50,422.33 L285.00,422.72 L285.50,423.50 L286.00,425.46 L286.50,425.39 L287.00,426.53 L287.50,425.73 L288.00,426.21 L288.50,422.88 L289.00,425.47 L289.50,426.37 L290.00,424.11 L290.50,426.88 L291.00,427.00 L291.50,424.75 L292.00,424.96 L292.50,424.08 L293.00,424.64 L293.50,427.00 L294.00,427.00 L294.50,423.63 L295.00,427.00 L295.50,424.92 L296.00,426.91 L296.50,425.65 L297.00,427.00 L297.50,425.57 L298.00,424.54 L298.50,426.41 L299.00,423.84 L299.50,423.72 L300.00,424.37 L300.50,424.24 L301.00,424.88 L301.50,423.71 L302.00,423.38 L302.50,425.12 L303.00,426.38 L303.50,424.50 L304.00,423.22 L304.50,425.18 L305.00,425.55 L305.50,423.25 L306.00,425.82 L306.50,426.67 L307.00,424.68 L307.50,426.82 L308.00,427.00 L308.50,423.81 L309.00,425.21 L309.50,424.92 L310.00,424.30 L310.50,426.08 L311.00,424.63 L311.50,425.35 L312.00,425.27 L312.50,424.52 L313.00,427.00 L313.50,425.16 L314.00,425.54 L314.50,425.16 L315.00,426.79 L315.50,425.29 L316.00,425.39 L316.50,425.56 L317.00,425.74 L317.50,426.68 L318.00,424.00 L318.50,426.07 L319.00,427.00 L319.50,423.49 L320.00,423.00 L320.50,424.31 L321.00,426.43 L321.50,423.70 L322.00,425.63 L322.50,426.65 L323.00,426.13 L323.50,425.42 L324.00,423.45 L324.50,425.81 L325.00,426.31 L325.50,423.97 L326.00,424.10 L326.50,427.00 L327.00,423.77 L327.50,425.29 L328.00,424.95 L328.50,425.52 L329.00,427.00 L329.50,425.23 L330.00,425.54 L330.50,426.52 L331.00,425.92 L331.50,425.24 L332.00,424.27 L332.50,423.82 L333.00,424.29 L333.50,426.41 L334.00,423.91 L334.50,423.38 L335.00,425.61 L335.50,424.94 L336.00,424.15 L336.50,426.29 L337.00,424.77 L337.50,424.15 L338.00,424.06 L338.50,427.00 L339.00,423.36 L339.50,423.83 L340.00,425.88 L340.50,426.03 L341.00,426.20 L341.50,423.56 L342.00,426.72 L342.50,423.48 L343.00,427.00 L343.50,424.56 L344.00,423.32 L344.50,424.28 L345.00,426.63 L345.50,424.76 L346.00,423.83 L346.50,423.55 L347.00,422.80 L347.50,427.00 L348.00,425.06 L348.50,426.82 L349.00,427.00 L349.50,424.84 L350.00,427.00 L350.50,427.00 L351.00,426.21 L351.50,424.62 L352.00,424.04 L352.50,425.34 L353.00,426.94 L353.50,426.36 L354.00,426.88 L354.50,424.79 L355.00,425.32 L355.50,425.76 L356.00,424.22 L356.50,423.80 L357.00,424.16 L357.50,424.59 L358.00,426.81 L358.50,423.65 L359.00,426.00 L359.50,426.91 L360.00,423.95 L360.50,424.20 L361.00,423.13 L361.50,425.96 L362.00,426.92 L362.50,424.54 L363.00,424.11 L363.50,424.59 L364.00,426.12 L364.50,422.60 L365.00,424.56 L365.50,427.00 L366.00,423.86 L366.50,424.70 L367.00,423.42 L367.50,425.32 L368.00,423.97 L368.50,427.00 L369.00,424.70 L369.50,424.65 L370.00,427.00 L370.50,424.19 L371.00,425.40 L371.50,425.79 L372.00,423.46 L372.50,424.21 L373.00,427.00 L373.50,426.32 L374.00,424.93 L374.50,424.46 L375.00,427.00 L375.50,427.00 L376.00,426.25 L376.50,426.45 L377.00,426.69 L377.50,424.79 L378.00,427.00 L378.50,424.82 L379.00,424.05 L379.50,427.00 L380.00,426.38 L380.50,425.90 L381.00,427.00 L381.50,426.95 L382.00,426.23 L382.50,423.75 L383.00,427.00 L383.50,424.95 L384.00,424.95 L384.50,427.00 L385.00,424.21 L385.50,427.00 L386.00,424.91 L386.50,427.00 L387.00,424.26 L387.50,424.21 L388.00,423.90 L388.50,423.41 L389.00,424.38 L389.50,423.44 L390.00,423.05 L390.50,422.87 L391.00,423.57 L391.50,423.67 L392.00,427.00 L392.50,423.92 L393.00,423.91 L393.50,424.00 L394.00,427.00 L394.50,425.86 L395.00,425.33 L395.50,425.93 L396.00,425.84 L396.50,426.72 L397.00,425.60 L397.50,427.00 L398.00,424.69 L398.50,425.52 L399.00,425.47 L399.50,423.64 L400.00,422.81 L400.50,423.45 L401.00,426.43 L401.50,426.45 L402.00,425.78 L402.50,425.25 L403.00,425.87 L403.50,427.00 L404.00,426.58 L404.50,425.96 L405.00,426.79 L405.50,425.12 L406.00,426.99 L406.50,423.66 L407.00,425.24 L407.50,426.60 L408.00,423.69 L408.50,424.06 L409.00,424.79 L409.50,425.89 L410.00,426.78 L410.50,427.00 L411.00,426.56 L411.50,426.49 L412.00,426.47 L412.50,427.00 L413.00,424.73 L413.50,424.50 L414.00,425.94 L414.50,423.12 L415.00,425.75 L415.50,423.84 L416.00,423.98 L416.50,427.00 L417.00,425.37 L417.50,426.16 L418.00,425.78 L418.50,423.56" fill="none" stroke="#ff1aa8" stroke-width="0.7"/>
<circle cx="246.6" cy="394.7" r="1.4" fill="none" stroke="#666" stroke-width="0.7"/>
<line x1="246.60" y1="394.00" x2="246.60" y2="414.00" stroke="#1e85f5" stroke-width="1.30" />
<line x1="246.60" y1="413.00" x2="246.60" y2="424.00" stroke="#ff1aa8" stroke-width="1.20" />
<circle cx="246.6" cy="414" r="1.2" fill="none" stroke="#666" stroke-width="0.7"/>
<path d="M418,387.5 l3,-2.2 v4.4 z" fill="#ff1aa8"/>
<rect x="171" y="442.10" width="109" height="2.7" fill="#333"/>
<rect x="280" y="442.10" width="52.5" height="2.7" fill="#a8a8a8"/>
<rect x="332.5" y="442.10" width="91" height="2.7" fill="#2a2a2a"/>
<rect x="201" y="442.10" width="9.5" height="2.7" fill="#6a9ee0"/>
<line x1="171.00" y1="445.40" x2="423.50" y2="445.40" stroke="#1e85f5" stroke-width="0.90" />
<ellipse cx="179.5" cy="342.8" rx="1.5" ry="2.1" fill="#a0a0a0"/>
<ellipse cx="179.6" cy="407.2" rx="1.5" ry="2.1" fill="#a0a0a0"/>
<rect x="221.6" y="186.6" width="17.8" height="71.6" rx="3" fill="none" stroke="#333" stroke-width="1.5"/>
<rect x="237.6" y="317.8" width="17.4" height="116.8" rx="3" fill="none" stroke="#333" stroke-width="1.5"/>
<line x1="231.30" y1="258.50" x2="231.30" y2="294.00" stroke="#333" stroke-width="1.20" />
<path d="M228.4,292.3 L231.4,299.4 L234.4,292.3 Z" fill="#333"/></svg><svg width="600" height="450" viewBox="0 0 600 450" style="position:absolute;left:0;top:0;filter:grayscale(1);font-family:'Liberation Sans',sans-serif"><text x="190.80" y="36.40" font-size="4.00" text-anchor="end" fill="#3c3c3c">100</text>
<text x="190.80" y="45.90" font-size="4.00" text-anchor="end" fill="#3c3c3c">80</text>
<text x="190.80" y="57.60" font-size="4.00" text-anchor="end" fill="#3c3c3c">60</text>
<text x="190.80" y="69.30" font-size="4.00" text-anchor="end" fill="#3c3c3c">40</text>
<text x="190.80" y="81.00" font-size="4.00" text-anchor="end" fill="#3c3c3c">20</text>
<text x="190.80" y="90.30" font-size="4.00" text-anchor="end" fill="#3c3c3c">0</text>
<text x="195.30" y="96.80" font-size="4.00" text-anchor="middle" fill="#3c3c3c">0</text>
<text x="250.80" y="96.80" font-size="4.00" text-anchor="middle" fill="#3c3c3c">5</text>
<text x="306.30" y="96.80" font-size="4.00" text-anchor="middle" fill="#3c3c3c">10</text>
<text x="361.80" y="96.80" font-size="4.00" text-anchor="middle" fill="#3c3c3c">15</text>
<text x="406.20" y="96.80" font-size="4.00" text-anchor="middle" fill="#3c3c3c">19</text>
<text x="190.80" y="117.70" font-size="4.00" text-anchor="end" fill="#3c3c3c">1.75</text>
<text x="190.80" y="125.50" font-size="4.00" text-anchor="end" fill="#3c3c3c">1.5</text>
<text x="190.80" y="135.20" font-size="4.00" text-anchor="end" fill="#3c3c3c">1.25</text>
<text x="190.80" y="144.90" font-size="4.00" text-anchor="end" fill="#3c3c3c">1</text>
<text x="190.80" y="154.60" font-size="4.00" text-anchor="end" fill="#3c3c3c">0.75</text>
<text x="190.80" y="164.30" font-size="4.00" text-anchor="end" fill="#3c3c3c">0.5</text>
<text x="190.80" y="171.40" font-size="4.00" text-anchor="end" fill="#3c3c3c">0.25</text>
<text x="250.80" y="177.80" font-size="4.00" text-anchor="middle" fill="#3c3c3c">5</text>
<text x="361.80" y="177.80" font-size="4.00" text-anchor="middle" fill="#3c3c3c">15</text>
<text x="406.20" y="177.80" font-size="4.00" text-anchor="middle" fill="#3c3c3c">19</text>
<text x="190.80" y="196.90" font-size="4.00" text-anchor="end" fill="#3c3c3c">0.6</text>
<text x="190.80" y="216.50" font-size="4.00" text-anchor="end" fill="#3c3c3c">0.4</text>
<text x="190.80" y="235.90" font-size="4.00" text-anchor="end" fill="#3c3c3c">0.2</text>
<text x="190.80" y="253.40" font-size="4.00" text-anchor="end" fill="#3c3c3c">0</text>
<text x="195.30" y="260.00" font-size="4.00" text-anchor="middle" fill="#3c3c3c">0</text>
<text x="250.80" y="260.00" font-size="4.00" text-anchor="middle" fill="#3c3c3c">5</text>
<text x="361.80" y="260.00" font-size="4.00" text-anchor="middle" fill="#3c3c3c">15</text>
<text x="406.20" y="260.00" font-size="4.00" text-anchor="middle" fill="#3c3c3c">19</text>
<text x="197.80" y="326.60" font-size="4.00" text-anchor="end" fill="#3c3c3c">15</text>
<text x="197.80" y="337.70" font-size="4.00" text-anchor="end" fill="#3c3c3c">10</text>
<text x="197.80" y="344.40" font-size="4.00" text-anchor="end" fill="#3c3c3c">7.5</text>
<text x="197.80" y="351.00" font-size="4.00" text-anchor="end" fill="#3c3c3c">5</text>
<text x="197.80" y="362.30" font-size="4.00" text-anchor="end" fill="#3c3c3c">0</text>
<text x="247.70" y="368.80" font-size="4.00" text-anchor="middle" fill="#3c3c3c">3k</text>
<text x="296.50" y="368.80" font-size="4.00" text-anchor="middle" fill="#3c3c3c">5k</text>
<text x="345.30" y="368.80" font-size="4.00" text-anchor="middle" fill="#3c3c3c">8k</text>
<text x="394.10" y="368.80" font-size="4.00" text-anchor="middle" fill="#3c3c3c">10k</text>
<text x="197.80" y="390.60" font-size="4.00" text-anchor="end" fill="#3c3c3c">80</text>
<text x="197.80" y="400.70" font-size="4.00" text-anchor="end" fill="#3c3c3c">50</text>
<text x="197.80" y="410.70" font-size="4.00" text-anchor="end" fill="#3c3c3c">25</text>
<text x="197.80" y="420.60" font-size="4.00" text-anchor="end" fill="#3c3c3c">0</text>
<text x="197.80" y="426.30" font-size="4.00" text-anchor="end" fill="#3c3c3c">-20</text>
<text x="247.70" y="432.50" font-size="4.00" text-anchor="middle" fill="#3c3c3c">3k</text>
<text x="296.50" y="432.50" font-size="4.00" text-anchor="middle" fill="#3c3c3c">5k</text>
<text x="345.30" y="432.50" font-size="4.00" text-anchor="middle" fill="#3c3c3c">8k</text>
<text x="394.10" y="432.50" font-size="4.00" text-anchor="middle" fill="#3c3c3c">10k</text></svg>
<div class="a" style="left:166.60px;top:4.60px;font-size:51.000px;transform:scale(0.25);color:#3a3a3a">声品质评价</div>
<div class="r" style="left:335.00px;top:8.00px;width:115.00px;height:37.50px;background:#fff;"></div>
<div class="r" style="left:345.80px;top:16.70px;width:5.50px;height:5.50px;background:#1a6ef5;"></div>
<div class="r" style="left:345.80px;top:26.30px;width:5.50px;height:5.70px;background:#ff0a78;"></div>
<div class="a" style="left:355.50px;top:16.50px;font-size:29.800px;transform:scale(0.25);">动力单元附近</div>
<div class="a" style="left:355.50px;top:26.20px;font-size:29.800px;transform:scale(0.25);">驾驶员耳朵所处位置</div>
<div class="a" style="left:356.00px;top:35.80px;font-size:29.800px;transform:scale(0.25);">听到的声音</div>
<div class="a" style="left:176.50px;top:62.00px;font-size:25.200px;color:#555;transform:translate(-50%,-50%) rotate(-90deg) scale(0.25);transform-origin:50% 50%">响度</div>
<div class="a" style="left:175.60px;top:145.50px;font-size:24.400px;color:#555;transform:translate(-50%,-50%) rotate(-90deg) scale(0.25);transform-origin:50% 50%">尖锐度</div>
<div class="a" style="left:177.20px;top:248.00px;font-size:24.400px;color:#555;transform:translate(-50%,-50%) rotate(-90deg) scale(0.25);transform-origin:50% 50%">纯音度</div>
<div class="r" style="left:277.00px;top:91.90px;width:47.00px;height:11.00px;background:#fff;"></div>
<div class="a" style="left:286.00px;top:93.60px;font-size:30.000px;transform:scale(0.25);">时间[s]</div>
<div class="r" style="left:277.00px;top:173.60px;width:47.00px;height:9.00px;background:#fff;"></div>
<div class="a" style="left:285.00px;top:174.80px;font-size:29.600px;transform:scale(0.25);">时间[s]</div>
<div class="r" style="left:276.00px;top:254.20px;width:49.00px;height:11.00px;background:#fff;"></div>
<div class="a" style="left:289.00px;top:258.00px;font-size:30.000px;transform:scale(0.25);">时间[s]</div>
<div class="box" style="left:333.8px;top:93px;width:130.2px;height:39.5px"></div>
<div class="a" style="left:357.50px;top:101.20px;font-size:30.400px;transform:scale(0.25);">与动力单元附近处相比，</div>
<div class="a" style="left:346.00px;top:109.20px;font-size:30.000px;transform:scale(0.25);">驾驶员耳朵位置处可听见的声音</div>
<div class="a" style="left:352.40px;top:119.30px;font-size:30.800px;transform:scale(0.25);">的响度</div>
<div class="a" style="left:381.50px;top:119.30px;font-size:30.000px;transform:scale(0.25);">•</div>
<div class="a" style="left:389.50px;top:119.30px;font-size:30.800px;transform:scale(0.25);">尖锐度都相对较</div>
<div class="box" style="left:237.5px;top:267.3px;width:127px;height:29.3px"></div>
<div class="r" style="left:347.50px;top:293.00px;width:80.00px;height:37.60px;background:#fff;"></div>
<div class="a" style="left:252.50px;top:273.50px;font-size:35.000px;transform:scale(0.25);">在纯音度较高的时间点观</div>
<div class="a" style="left:261.00px;top:284.50px;font-size:35.000px;transform:scale(0.25);">察确认PR（异音突出</div>
<div class="a" style="left:189.80px;top:295.00px;font-size:49.600px;transform:scale(0.25);">(异音突出比)</div>
<div class="r" style="left:358.20px;top:301.20px;width:4.30px;height:4.60px;background:#1a6ef5;"></div>
<div class="r" style="left:358.20px;top:310.80px;width:4.50px;height:4.60px;background:#ff0a78;"></div>
<div class="a" style="left:365.50px;top:300.00px;font-size:30.200px;transform:scale(0.25);">动力单元附近处的声音</div>
<div class="a" style="left:368.70px;top:310.60px;font-size:29.400px;transform:scale(0.25);">驾驶员耳朵所处位置</div>
<div class="a" style="left:368.70px;top:319.40px;font-size:29.400px;transform:scale(0.25);">听到的声音</div>
<div class="box" style="left:264.2px;top:330.5px;width:97.8px;height:23.6px;background:#dae3f4;border-radius:5px"></div>
<div class="a" style="left:285.00px;top:334.00px;font-size:30.400px;transform:scale(0.25);">在3 kHz频带附近</div>
<div class="a" style="left:274.70px;top:343.20px;font-size:30.600px;transform:scale(0.25);">检测出带有纯音的信号</div>
<div class="a" style="left:289.00px;top:373.50px;font-size:30.000px;transform:scale(0.25);">频率[Hz]</div>
<div class="a" style="left:288.50px;top:435.00px;font-size:30.000px;transform:scale(0.25);">频率[Hz]</div>
</body></html>
